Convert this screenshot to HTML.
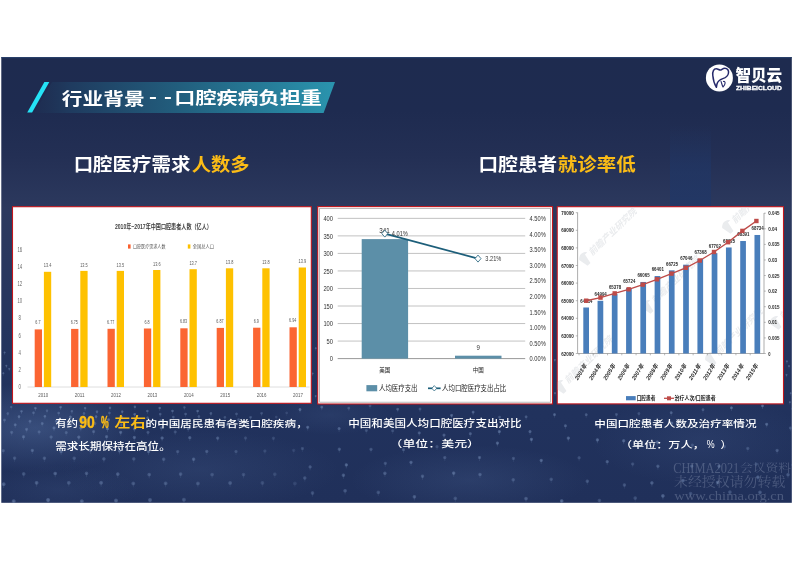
<!DOCTYPE html>
<html lang="zh-CN"><head><meta charset="utf-8"><title>行业背景--口腔疾病负担重</title>
<style>
html,body{margin:0;padding:0;background:#fff;}
body{width:793px;height:561px;overflow:hidden;}
svg{display:block;}
text{white-space:pre;}
</style></head><body>
<svg width="793" height="561" viewBox="0 0 793 561">
<defs>
<linearGradient id="bg" x1="0" y1="0" x2="0" y2="1">
<stop offset="0" stop-color="#1e2b4f"/>
<stop offset="0.12" stop-color="#1e2b50"/>
<stop offset="0.22" stop-color="#232f54"/>
<stop offset="0.34" stop-color="#2c395e"/>
<stop offset="0.6" stop-color="#25355e"/>
<stop offset="0.8" stop-color="#21325d"/>
<stop offset="1" stop-color="#20305a"/>
</linearGradient>
<linearGradient id="band" x1="0" y1="0" x2="1" y2="0">
<stop offset="0" stop-color="#1f3558" stop-opacity="0.2"/>
<stop offset="0.12" stop-color="#1f3b5f"/>
<stop offset="0.5" stop-color="#22607f"/>
<stop offset="1" stop-color="#2a94ae"/>
</linearGradient>
<linearGradient id="tower" x1="0" y1="0" x2="0" y2="1">
<stop offset="0" stop-color="#1f3768" stop-opacity="0"/>
<stop offset="0.5" stop-color="#1f3768" stop-opacity="0.8"/>
<stop offset="1" stop-color="#1f3768" stop-opacity="1"/>
</linearGradient>
<radialGradient id="dot"><stop offset="0" stop-color="#8ea7cf" stop-opacity="0.9"/><stop offset="0.6" stop-color="#7790bb" stop-opacity="0.7"/><stop offset="1" stop-color="#6a84b2" stop-opacity="0"/></radialGradient>
<radialGradient id="glow"><stop offset="0" stop-color="#6f8fc4" stop-opacity="1"/><stop offset="1" stop-color="#6f8fc4" stop-opacity="0"/></radialGradient>
<filter id="soft" x="-5%" y="-5%" width="110%" height="110%"><feGaussianBlur stdDeviation="0.45"/></filter>
<filter id="soft2" x="-5%" y="-5%" width="110%" height="110%"><feGaussianBlur stdDeviation="0.3"/></filter>
<clipPath id="c3"><rect x="557.8" y="207.3" width="225.1" height="196"/></clipPath>
<clipPath id="slide"><rect x="1.3" y="57" width="790.5" height="445.8"/></clipPath>
</defs>
<rect x="0" y="0" width="793" height="561" fill="#fff"/>
<rect x="1.3" y="57" width="790.5" height="445.8" fill="url(#bg)"/>
<rect x="1.3" y="57" width="790.5" height="1.2" fill="#2b456f" opacity="0.8"/>

<g clip-path="url(#slide)">
<rect x="670" y="125" width="41" height="82" fill="url(#tower)" opacity="0.7"/>
<ellipse cx="35" cy="428" rx="110" ry="45" fill="url(#glow)" opacity="0.3"/>
<ellipse cx="200" cy="470" rx="140" ry="40" fill="url(#glow)" opacity="0.12"/>
<ellipse cx="470" cy="480" rx="120" ry="35" fill="url(#glow)" opacity="0.14"/>
<ellipse cx="700" cy="440" rx="110" ry="45" fill="url(#glow)" opacity="0.1"/>
<ellipse cx="330" cy="415" rx="60" ry="20" fill="url(#glow)" opacity="0.1"/>
<ellipse cx="60" cy="490" rx="80" ry="25" fill="url(#glow)" opacity="0.1"/>
<circle cx="11.2" cy="407.0" r="1.7" fill="url(#dot)" opacity="0.38"/>
<rect x="10.7" y="407.3" width="1" height="2.5" fill="#7b95bd" opacity="0.13"/>
<circle cx="7.8" cy="413.5" r="1.8" fill="url(#dot)" opacity="0.39"/>
<rect x="7.3" y="413.8" width="1" height="2.7" fill="#7b95bd" opacity="0.14"/>
<circle cx="4.5" cy="420.0" r="1.9" fill="url(#dot)" opacity="0.43"/>
<rect x="4.0" y="420.3" width="1" height="2.8" fill="#7b95bd" opacity="0.15"/>
<circle cx="21.5" cy="411.3" r="1.7" fill="url(#dot)" opacity="0.47"/>
<rect x="21.0" y="411.6" width="1" height="2.5" fill="#7b95bd" opacity="0.17"/>
<circle cx="19.0" cy="416.6" r="1.8" fill="url(#dot)" opacity="0.58"/>
<rect x="18.5" y="416.9" width="1" height="2.7" fill="#7b95bd" opacity="0.20"/>
<circle cx="15.2" cy="424.8" r="1.9" fill="url(#dot)" opacity="0.55"/>
<rect x="14.7" y="425.1" width="1" height="2.8" fill="#7b95bd" opacity="0.19"/>
<circle cx="11.7" cy="432.3" r="2.0" fill="url(#dot)" opacity="0.44"/>
<rect x="11.2" y="432.6" width="1" height="3.0" fill="#7b95bd" opacity="0.16"/>
<circle cx="3.2" cy="450.7" r="2.1" fill="url(#dot)" opacity="0.39"/>
<rect x="2.7" y="451.0" width="1" height="3.2" fill="#7b95bd" opacity="0.14"/>
<circle cx="35.4" cy="408.2" r="1.7" fill="url(#dot)" opacity="0.55"/>
<rect x="34.9" y="408.5" width="1" height="2.5" fill="#7b95bd" opacity="0.19"/>
<circle cx="33.5" cy="412.7" r="1.8" fill="url(#dot)" opacity="0.42"/>
<rect x="33.0" y="413.0" width="1" height="2.7" fill="#7b95bd" opacity="0.15"/>
<circle cx="30.0" cy="421.2" r="1.9" fill="url(#dot)" opacity="0.47"/>
<rect x="29.5" y="421.5" width="1" height="2.8" fill="#7b95bd" opacity="0.17"/>
<circle cx="26.6" cy="429.3" r="2.0" fill="url(#dot)" opacity="0.46"/>
<rect x="26.1" y="429.6" width="1" height="3.0" fill="#7b95bd" opacity="0.16"/>
<circle cx="23.5" cy="436.8" r="2.1" fill="url(#dot)" opacity="0.51"/>
<rect x="23.0" y="437.1" width="1" height="3.1" fill="#7b95bd" opacity="0.18"/>
<circle cx="14.6" cy="458.1" r="2.2" fill="url(#dot)" opacity="0.40"/>
<rect x="14.1" y="458.4" width="1" height="3.4" fill="#7b95bd" opacity="0.14"/>
<circle cx="3.7" cy="484.2" r="2.4" fill="url(#dot)" opacity="0.53"/>
<rect x="3.2" y="484.5" width="1" height="3.6" fill="#7b95bd" opacity="0.19"/>
<circle cx="47.0" cy="410.6" r="1.7" fill="url(#dot)" opacity="0.40"/>
<rect x="46.5" y="410.9" width="1" height="2.5" fill="#7b95bd" opacity="0.14"/>
<circle cx="44.9" cy="416.3" r="1.8" fill="url(#dot)" opacity="0.54"/>
<rect x="44.4" y="416.6" width="1" height="2.7" fill="#7b95bd" opacity="0.19"/>
<circle cx="42.2" cy="423.5" r="1.9" fill="url(#dot)" opacity="0.49"/>
<rect x="41.7" y="423.8" width="1" height="2.8" fill="#7b95bd" opacity="0.17"/>
<circle cx="39.1" cy="431.9" r="2.0" fill="url(#dot)" opacity="0.42"/>
<rect x="38.6" y="432.2" width="1" height="3.0" fill="#7b95bd" opacity="0.15"/>
<circle cx="32.3" cy="450.4" r="2.1" fill="url(#dot)" opacity="0.51"/>
<rect x="31.8" y="450.7" width="1" height="3.2" fill="#7b95bd" opacity="0.18"/>
<circle cx="23.7" cy="473.9" r="2.3" fill="url(#dot)" opacity="0.42"/>
<rect x="23.2" y="474.2" width="1" height="3.5" fill="#7b95bd" opacity="0.15"/>
<circle cx="13.7" cy="501.3" r="2.5" fill="url(#dot)" opacity="0.54"/>
<rect x="13.2" y="501.6" width="1" height="3.8" fill="#7b95bd" opacity="0.19"/>
<circle cx="60.6" cy="407.2" r="1.7" fill="url(#dot)" opacity="0.56"/>
<rect x="60.1" y="407.5" width="1" height="2.5" fill="#7b95bd" opacity="0.19"/>
<circle cx="58.7" cy="413.0" r="1.8" fill="url(#dot)" opacity="0.46"/>
<rect x="58.2" y="413.3" width="1" height="2.7" fill="#7b95bd" opacity="0.16"/>
<circle cx="56.2" cy="421.1" r="1.9" fill="url(#dot)" opacity="0.51"/>
<rect x="55.7" y="421.4" width="1" height="2.8" fill="#7b95bd" opacity="0.18"/>
<circle cx="54.0" cy="427.9" r="2.0" fill="url(#dot)" opacity="0.58"/>
<rect x="53.5" y="428.2" width="1" height="3.0" fill="#7b95bd" opacity="0.20"/>
<circle cx="51.1" cy="437.0" r="2.1" fill="url(#dot)" opacity="0.43"/>
<rect x="50.6" y="437.3" width="1" height="3.1" fill="#7b95bd" opacity="0.15"/>
<circle cx="44.4" cy="458.2" r="2.2" fill="url(#dot)" opacity="0.44"/>
<rect x="43.9" y="458.5" width="1" height="3.4" fill="#7b95bd" opacity="0.15"/>
<circle cx="36.6" cy="482.8" r="2.4" fill="url(#dot)" opacity="0.50"/>
<rect x="36.1" y="483.1" width="1" height="3.6" fill="#7b95bd" opacity="0.17"/>
<circle cx="71.9" cy="411.2" r="1.7" fill="url(#dot)" opacity="0.45"/>
<rect x="71.4" y="411.5" width="1" height="2.5" fill="#7b95bd" opacity="0.16"/>
<circle cx="70.4" cy="416.9" r="1.8" fill="url(#dot)" opacity="0.57"/>
<rect x="69.9" y="417.2" width="1" height="2.7" fill="#7b95bd" opacity="0.20"/>
<circle cx="68.5" cy="424.0" r="1.9" fill="url(#dot)" opacity="0.49"/>
<rect x="68.0" y="424.3" width="1" height="2.8" fill="#7b95bd" opacity="0.17"/>
<circle cx="66.2" cy="432.6" r="2.0" fill="url(#dot)" opacity="0.42"/>
<rect x="65.7" y="432.9" width="1" height="3.0" fill="#7b95bd" opacity="0.15"/>
<circle cx="61.1" cy="451.7" r="2.1" fill="url(#dot)" opacity="0.54"/>
<rect x="60.6" y="452.0" width="1" height="3.2" fill="#7b95bd" opacity="0.19"/>
<circle cx="55.2" cy="473.5" r="2.3" fill="url(#dot)" opacity="0.53"/>
<rect x="54.7" y="473.8" width="1" height="3.5" fill="#7b95bd" opacity="0.18"/>
<circle cx="48.1" cy="500.0" r="2.5" fill="url(#dot)" opacity="0.57"/>
<rect x="47.6" y="500.3" width="1" height="3.8" fill="#7b95bd" opacity="0.20"/>
<circle cx="85.1" cy="408.1" r="1.7" fill="url(#dot)" opacity="0.50"/>
<rect x="84.6" y="408.4" width="1" height="2.5" fill="#7b95bd" opacity="0.18"/>
<circle cx="84.0" cy="413.4" r="1.8" fill="url(#dot)" opacity="0.40"/>
<rect x="83.5" y="413.7" width="1" height="2.7" fill="#7b95bd" opacity="0.14"/>
<circle cx="82.6" cy="419.8" r="1.9" fill="url(#dot)" opacity="0.57"/>
<rect x="82.1" y="420.1" width="1" height="2.8" fill="#7b95bd" opacity="0.20"/>
<circle cx="80.8" cy="428.1" r="2.0" fill="url(#dot)" opacity="0.52"/>
<rect x="80.3" y="428.4" width="1" height="3.0" fill="#7b95bd" opacity="0.18"/>
<circle cx="78.8" cy="437.1" r="2.1" fill="url(#dot)" opacity="0.54"/>
<rect x="78.3" y="437.4" width="1" height="3.1" fill="#7b95bd" opacity="0.19"/>
<circle cx="74.2" cy="458.2" r="2.2" fill="url(#dot)" opacity="0.42"/>
<rect x="73.7" y="458.5" width="1" height="3.4" fill="#7b95bd" opacity="0.15"/>
<circle cx="68.8" cy="482.8" r="2.4" fill="url(#dot)" opacity="0.43"/>
<rect x="68.3" y="483.1" width="1" height="3.6" fill="#7b95bd" opacity="0.15"/>
<circle cx="97.0" cy="411.6" r="1.7" fill="url(#dot)" opacity="0.50"/>
<rect x="96.5" y="411.9" width="1" height="2.5" fill="#7b95bd" opacity="0.18"/>
<circle cx="96.1" cy="416.6" r="1.8" fill="url(#dot)" opacity="0.56"/>
<rect x="95.6" y="416.9" width="1" height="2.7" fill="#7b95bd" opacity="0.20"/>
<circle cx="95.0" cy="423.5" r="1.9" fill="url(#dot)" opacity="0.38"/>
<rect x="94.5" y="423.8" width="1" height="2.8" fill="#7b95bd" opacity="0.13"/>
<circle cx="93.6" cy="431.6" r="2.0" fill="url(#dot)" opacity="0.47"/>
<rect x="93.1" y="431.9" width="1" height="3.0" fill="#7b95bd" opacity="0.16"/>
<circle cx="90.4" cy="450.5" r="2.1" fill="url(#dot)" opacity="0.45"/>
<rect x="89.9" y="450.8" width="1" height="3.2" fill="#7b95bd" opacity="0.16"/>
<circle cx="86.5" cy="473.4" r="2.3" fill="url(#dot)" opacity="0.45"/>
<rect x="86.0" y="473.7" width="1" height="3.5" fill="#7b95bd" opacity="0.16"/>
<circle cx="81.8" cy="501.3" r="2.5" fill="url(#dot)" opacity="0.51"/>
<rect x="81.3" y="501.6" width="1" height="3.8" fill="#7b95bd" opacity="0.18"/>
<circle cx="110.0" cy="407.8" r="1.7" fill="url(#dot)" opacity="0.50"/>
<rect x="109.5" y="408.1" width="1" height="2.5" fill="#7b95bd" opacity="0.17"/>
<circle cx="109.4" cy="412.9" r="1.8" fill="url(#dot)" opacity="0.39"/>
<rect x="108.9" y="413.2" width="1" height="2.7" fill="#7b95bd" opacity="0.14"/>
<circle cx="108.6" cy="419.7" r="1.9" fill="url(#dot)" opacity="0.56"/>
<rect x="108.1" y="420.0" width="1" height="2.8" fill="#7b95bd" opacity="0.20"/>
<circle cx="107.5" cy="428.8" r="2.0" fill="url(#dot)" opacity="0.57"/>
<rect x="107.0" y="429.1" width="1" height="3.0" fill="#7b95bd" opacity="0.20"/>
<circle cx="106.6" cy="436.7" r="2.1" fill="url(#dot)" opacity="0.51"/>
<rect x="106.1" y="437.0" width="1" height="3.1" fill="#7b95bd" opacity="0.18"/>
<circle cx="103.9" cy="458.9" r="2.2" fill="url(#dot)" opacity="0.44"/>
<rect x="103.4" y="459.2" width="1" height="3.4" fill="#7b95bd" opacity="0.16"/>
<circle cx="101.1" cy="482.8" r="2.4" fill="url(#dot)" opacity="0.49"/>
<rect x="100.6" y="483.1" width="1" height="3.6" fill="#7b95bd" opacity="0.17"/>
<circle cx="122.2" cy="411.6" r="1.7" fill="url(#dot)" opacity="0.53"/>
<rect x="121.7" y="411.9" width="1" height="2.5" fill="#7b95bd" opacity="0.18"/>
<circle cx="121.8" cy="417.3" r="1.8" fill="url(#dot)" opacity="0.54"/>
<rect x="121.3" y="417.6" width="1" height="2.7" fill="#7b95bd" opacity="0.19"/>
<circle cx="121.3" cy="424.7" r="1.9" fill="url(#dot)" opacity="0.45"/>
<rect x="120.8" y="425.0" width="1" height="2.8" fill="#7b95bd" opacity="0.16"/>
<circle cx="120.7" cy="432.3" r="2.0" fill="url(#dot)" opacity="0.56"/>
<rect x="120.2" y="432.6" width="1" height="3.0" fill="#7b95bd" opacity="0.20"/>
<circle cx="119.4" cy="450.9" r="2.1" fill="url(#dot)" opacity="0.54"/>
<rect x="118.9" y="451.2" width="1" height="3.2" fill="#7b95bd" opacity="0.19"/>
<circle cx="117.8" cy="474.1" r="2.3" fill="url(#dot)" opacity="0.50"/>
<rect x="117.3" y="474.4" width="1" height="3.5" fill="#7b95bd" opacity="0.18"/>
<circle cx="116.0" cy="500.6" r="2.5" fill="url(#dot)" opacity="0.50"/>
<rect x="115.5" y="500.9" width="1" height="3.8" fill="#7b95bd" opacity="0.18"/>
<circle cx="134.9" cy="406.8" r="1.7" fill="url(#dot)" opacity="0.51"/>
<rect x="134.4" y="407.1" width="1" height="2.5" fill="#7b95bd" opacity="0.18"/>
<circle cx="134.7" cy="414.3" r="1.8" fill="url(#dot)" opacity="0.56"/>
<rect x="134.2" y="414.6" width="1" height="2.7" fill="#7b95bd" opacity="0.19"/>
<circle cx="134.6" cy="420.9" r="1.9" fill="url(#dot)" opacity="0.46"/>
<rect x="134.1" y="421.2" width="1" height="2.8" fill="#7b95bd" opacity="0.16"/>
<circle cx="134.4" cy="428.9" r="2.0" fill="url(#dot)" opacity="0.50"/>
<rect x="133.9" y="429.2" width="1" height="3.0" fill="#7b95bd" opacity="0.17"/>
<circle cx="134.3" cy="437.4" r="2.1" fill="url(#dot)" opacity="0.55"/>
<rect x="133.8" y="437.7" width="1" height="3.1" fill="#7b95bd" opacity="0.19"/>
<circle cx="133.8" cy="458.9" r="2.2" fill="url(#dot)" opacity="0.39"/>
<rect x="133.3" y="459.2" width="1" height="3.4" fill="#7b95bd" opacity="0.14"/>
<circle cx="133.3" cy="483.5" r="2.4" fill="url(#dot)" opacity="0.43"/>
<rect x="132.8" y="483.8" width="1" height="3.6" fill="#7b95bd" opacity="0.15"/>
<circle cx="147.4" cy="411.0" r="1.7" fill="url(#dot)" opacity="0.50"/>
<rect x="146.9" y="411.3" width="1" height="2.5" fill="#7b95bd" opacity="0.18"/>
<circle cx="147.6" cy="417.7" r="1.8" fill="url(#dot)" opacity="0.43"/>
<rect x="147.1" y="418.0" width="1" height="2.7" fill="#7b95bd" opacity="0.15"/>
<circle cx="147.7" cy="423.2" r="1.9" fill="url(#dot)" opacity="0.44"/>
<rect x="147.2" y="423.5" width="1" height="2.8" fill="#7b95bd" opacity="0.15"/>
<circle cx="148.0" cy="432.3" r="2.0" fill="url(#dot)" opacity="0.42"/>
<rect x="147.5" y="432.6" width="1" height="3.0" fill="#7b95bd" opacity="0.15"/>
<circle cx="148.5" cy="451.6" r="2.1" fill="url(#dot)" opacity="0.51"/>
<rect x="148.0" y="451.9" width="1" height="3.2" fill="#7b95bd" opacity="0.18"/>
<circle cx="149.2" cy="474.6" r="2.3" fill="url(#dot)" opacity="0.45"/>
<rect x="148.7" y="474.9" width="1" height="3.5" fill="#7b95bd" opacity="0.16"/>
<circle cx="150.0" cy="500.0" r="2.5" fill="url(#dot)" opacity="0.47"/>
<rect x="149.5" y="500.3" width="1" height="3.8" fill="#7b95bd" opacity="0.16"/>
<circle cx="159.7" cy="408.0" r="1.7" fill="url(#dot)" opacity="0.56"/>
<rect x="159.2" y="408.3" width="1" height="2.5" fill="#7b95bd" opacity="0.20"/>
<circle cx="160.2" cy="414.1" r="1.8" fill="url(#dot)" opacity="0.46"/>
<rect x="159.7" y="414.4" width="1" height="2.7" fill="#7b95bd" opacity="0.16"/>
<circle cx="160.7" cy="420.6" r="1.9" fill="url(#dot)" opacity="0.44"/>
<rect x="160.2" y="420.9" width="1" height="2.8" fill="#7b95bd" opacity="0.16"/>
<circle cx="161.3" cy="427.9" r="2.0" fill="url(#dot)" opacity="0.48"/>
<rect x="160.8" y="428.2" width="1" height="3.0" fill="#7b95bd" opacity="0.17"/>
<circle cx="162.1" cy="438.0" r="2.1" fill="url(#dot)" opacity="0.55"/>
<rect x="161.6" y="438.3" width="1" height="3.1" fill="#7b95bd" opacity="0.19"/>
<circle cx="163.7" cy="459.2" r="2.2" fill="url(#dot)" opacity="0.44"/>
<rect x="163.2" y="459.5" width="1" height="3.4" fill="#7b95bd" opacity="0.15"/>
<circle cx="165.6" cy="483.4" r="2.4" fill="url(#dot)" opacity="0.44"/>
<rect x="165.1" y="483.7" width="1" height="3.6" fill="#7b95bd" opacity="0.15"/>
<circle cx="172.5" cy="410.9" r="1.7" fill="url(#dot)" opacity="0.51"/>
<rect x="172.0" y="411.2" width="1" height="2.5" fill="#7b95bd" opacity="0.18"/>
<circle cx="173.3" cy="417.0" r="1.8" fill="url(#dot)" opacity="0.44"/>
<rect x="172.8" y="417.3" width="1" height="2.7" fill="#7b95bd" opacity="0.16"/>
<circle cx="174.2" cy="424.5" r="1.9" fill="url(#dot)" opacity="0.58"/>
<rect x="173.7" y="424.8" width="1" height="2.8" fill="#7b95bd" opacity="0.20"/>
<circle cx="175.2" cy="431.9" r="2.0" fill="url(#dot)" opacity="0.39"/>
<rect x="174.7" y="432.2" width="1" height="3.0" fill="#7b95bd" opacity="0.14"/>
<circle cx="177.7" cy="451.6" r="2.1" fill="url(#dot)" opacity="0.39"/>
<rect x="177.2" y="451.9" width="1" height="3.2" fill="#7b95bd" opacity="0.14"/>
<circle cx="180.6" cy="474.1" r="2.3" fill="url(#dot)" opacity="0.44"/>
<rect x="180.1" y="474.4" width="1" height="3.5" fill="#7b95bd" opacity="0.15"/>
<circle cx="183.9" cy="499.7" r="2.5" fill="url(#dot)" opacity="0.41"/>
<rect x="183.4" y="500.0" width="1" height="3.8" fill="#7b95bd" opacity="0.14"/>
<circle cx="184.4" cy="407.4" r="1.7" fill="url(#dot)" opacity="0.38"/>
<rect x="183.9" y="407.7" width="1" height="2.5" fill="#7b95bd" opacity="0.13"/>
<circle cx="185.6" cy="414.0" r="1.8" fill="url(#dot)" opacity="0.43"/>
<rect x="185.1" y="414.3" width="1" height="2.7" fill="#7b95bd" opacity="0.15"/>
<circle cx="186.7" cy="419.9" r="1.9" fill="url(#dot)" opacity="0.39"/>
<rect x="186.2" y="420.2" width="1" height="2.8" fill="#7b95bd" opacity="0.14"/>
<circle cx="188.2" cy="428.7" r="2.0" fill="url(#dot)" opacity="0.47"/>
<rect x="187.7" y="429.0" width="1" height="3.0" fill="#7b95bd" opacity="0.16"/>
<circle cx="189.8" cy="437.7" r="2.1" fill="url(#dot)" opacity="0.51"/>
<rect x="189.3" y="438.0" width="1" height="3.1" fill="#7b95bd" opacity="0.18"/>
<circle cx="193.6" cy="459.2" r="2.2" fill="url(#dot)" opacity="0.52"/>
<rect x="193.1" y="459.5" width="1" height="3.4" fill="#7b95bd" opacity="0.18"/>
<circle cx="197.9" cy="483.5" r="2.4" fill="url(#dot)" opacity="0.42"/>
<rect x="197.4" y="483.8" width="1" height="3.6" fill="#7b95bd" opacity="0.15"/>
<circle cx="197.6" cy="411.0" r="1.7" fill="url(#dot)" opacity="0.52"/>
<rect x="197.1" y="411.3" width="1" height="2.5" fill="#7b95bd" opacity="0.18"/>
<circle cx="198.9" cy="416.5" r="1.8" fill="url(#dot)" opacity="0.43"/>
<rect x="198.4" y="416.8" width="1" height="2.7" fill="#7b95bd" opacity="0.15"/>
<circle cx="200.5" cy="423.8" r="1.9" fill="url(#dot)" opacity="0.52"/>
<rect x="200.0" y="424.1" width="1" height="2.8" fill="#7b95bd" opacity="0.18"/>
<circle cx="206.8" cy="451.4" r="2.1" fill="url(#dot)" opacity="0.44"/>
<rect x="206.3" y="451.7" width="1" height="3.2" fill="#7b95bd" opacity="0.15"/>
<circle cx="212.1" cy="474.6" r="2.3" fill="url(#dot)" opacity="0.37"/>
<rect x="211.6" y="474.9" width="1" height="3.5" fill="#7b95bd" opacity="0.13"/>
<circle cx="210.9" cy="413.4" r="1.8" fill="url(#dot)" opacity="0.47"/>
<rect x="210.4" y="413.7" width="1" height="2.7" fill="#7b95bd" opacity="0.17"/>
<circle cx="213.0" cy="421.2" r="1.9" fill="url(#dot)" opacity="0.42"/>
<rect x="212.5" y="421.5" width="1" height="2.8" fill="#7b95bd" opacity="0.15"/>
<circle cx="217.7" cy="438.1" r="2.1" fill="url(#dot)" opacity="0.49"/>
<rect x="217.2" y="438.4" width="1" height="3.1" fill="#7b95bd" opacity="0.17"/>
<circle cx="230.1" cy="483.0" r="2.4" fill="url(#dot)" opacity="0.44"/>
<rect x="229.6" y="483.3" width="1" height="3.6" fill="#7b95bd" opacity="0.15"/>
<circle cx="224.9" cy="417.3" r="1.8" fill="url(#dot)" opacity="0.36"/>
<rect x="224.4" y="417.6" width="1" height="2.7" fill="#7b95bd" opacity="0.13"/>
<circle cx="227.2" cy="424.6" r="1.9" fill="url(#dot)" opacity="0.49"/>
<rect x="226.7" y="424.9" width="1" height="2.8" fill="#7b95bd" opacity="0.17"/>
<circle cx="236.0" cy="451.5" r="2.1" fill="url(#dot)" opacity="0.36"/>
<rect x="235.5" y="451.8" width="1" height="3.2" fill="#7b95bd" opacity="0.12"/>
<circle cx="243.5" cy="474.6" r="2.3" fill="url(#dot)" opacity="0.34"/>
<rect x="243.0" y="474.9" width="1" height="3.5" fill="#7b95bd" opacity="0.12"/>
<circle cx="236.5" cy="413.9" r="1.8" fill="url(#dot)" opacity="0.38"/>
<rect x="236.0" y="414.2" width="1" height="2.7" fill="#7b95bd" opacity="0.13"/>
<circle cx="238.6" cy="419.7" r="1.9" fill="url(#dot)" opacity="0.43"/>
<rect x="238.1" y="420.0" width="1" height="2.8" fill="#7b95bd" opacity="0.15"/>
<circle cx="245.5" cy="438.0" r="2.1" fill="url(#dot)" opacity="0.31"/>
<rect x="245.0" y="438.3" width="1" height="3.1" fill="#7b95bd" opacity="0.11"/>
<circle cx="262.4" cy="482.9" r="2.4" fill="url(#dot)" opacity="0.32"/>
<rect x="261.9" y="483.2" width="1" height="3.6" fill="#7b95bd" opacity="0.11"/>
<circle cx="250.6" cy="417.3" r="1.8" fill="url(#dot)" opacity="0.41"/>
<rect x="250.1" y="417.6" width="1" height="2.7" fill="#7b95bd" opacity="0.14"/>
<circle cx="253.4" cy="424.0" r="1.9" fill="url(#dot)" opacity="0.40"/>
<rect x="252.9" y="424.3" width="1" height="2.8" fill="#7b95bd" opacity="0.14"/>
<circle cx="264.9" cy="451.0" r="2.1" fill="url(#dot)" opacity="0.28"/>
<rect x="264.4" y="451.3" width="1" height="3.2" fill="#7b95bd" opacity="0.10"/>
<circle cx="274.8" cy="474.2" r="2.3" fill="url(#dot)" opacity="0.28"/>
<rect x="274.3" y="474.5" width="1" height="3.5" fill="#7b95bd" opacity="0.10"/>
<circle cx="261.6" cy="413.3" r="1.8" fill="url(#dot)" opacity="0.36"/>
<rect x="261.1" y="413.6" width="1" height="2.7" fill="#7b95bd" opacity="0.13"/>
<circle cx="265.3" cy="421.1" r="1.9" fill="url(#dot)" opacity="0.27"/>
<rect x="264.8" y="421.4" width="1" height="2.8" fill="#7b95bd" opacity="0.09"/>
<circle cx="273.4" cy="438.2" r="2.1" fill="url(#dot)" opacity="0.29"/>
<rect x="272.9" y="438.5" width="1" height="3.1" fill="#7b95bd" opacity="0.10"/>
<circle cx="294.9" cy="483.5" r="2.4" fill="url(#dot)" opacity="0.24"/>
<rect x="294.4" y="483.8" width="1" height="3.6" fill="#7b95bd" opacity="0.08"/>
<circle cx="276.2" cy="417.0" r="1.8" fill="url(#dot)" opacity="0.27"/>
<rect x="275.7" y="417.3" width="1" height="2.7" fill="#7b95bd" opacity="0.09"/>
<circle cx="280.1" cy="424.5" r="1.9" fill="url(#dot)" opacity="0.27"/>
<rect x="279.6" y="424.8" width="1" height="2.8" fill="#7b95bd" opacity="0.10"/>
<circle cx="293.7" cy="450.3" r="2.1" fill="url(#dot)" opacity="0.23"/>
<rect x="293.2" y="450.6" width="1" height="3.2" fill="#7b95bd" opacity="0.08"/>
<circle cx="286.7" cy="412.9" r="1.8" fill="url(#dot)" opacity="0.24"/>
<rect x="286.2" y="413.2" width="1" height="2.7" fill="#7b95bd" opacity="0.08"/>
<circle cx="291.4" cy="421.0" r="1.9" fill="url(#dot)" opacity="0.28"/>
<rect x="290.9" y="421.3" width="1" height="2.8" fill="#7b95bd" opacity="0.10"/>
<circle cx="300.0" cy="409.5" r="1.9" fill="url(#dot)" opacity="0.59"/>
<rect x="299.5" y="409.8" width="1" height="2.8" fill="#7b95bd" opacity="0.21"/>
<circle cx="321.8" cy="407.1" r="1.9" fill="url(#dot)" opacity="0.54"/>
<rect x="321.3" y="407.4" width="1" height="2.8" fill="#7b95bd" opacity="0.19"/>
<circle cx="348.8" cy="408.1" r="1.9" fill="url(#dot)" opacity="0.40"/>
<rect x="348.3" y="408.4" width="1" height="2.8" fill="#7b95bd" opacity="0.14"/>
<circle cx="370.0" cy="405.8" r="1.9" fill="url(#dot)" opacity="0.36"/>
<rect x="369.5" y="406.1" width="1" height="2.8" fill="#7b95bd" opacity="0.13"/>
<circle cx="397.7" cy="409.2" r="1.9" fill="url(#dot)" opacity="0.49"/>
<rect x="397.2" y="409.5" width="1" height="2.8" fill="#7b95bd" opacity="0.17"/>
<circle cx="420.0" cy="409.0" r="1.9" fill="url(#dot)" opacity="0.40"/>
<rect x="419.5" y="409.3" width="1" height="2.8" fill="#7b95bd" opacity="0.14"/>
<circle cx="451.6" cy="415.3" r="1.9" fill="url(#dot)" opacity="0.58"/>
<rect x="451.1" y="415.6" width="1" height="2.8" fill="#7b95bd" opacity="0.20"/>
<circle cx="473.1" cy="412.1" r="1.9" fill="url(#dot)" opacity="0.59"/>
<rect x="472.6" y="412.4" width="1" height="2.8" fill="#7b95bd" opacity="0.21"/>
<circle cx="499.6" cy="417.1" r="1.9" fill="url(#dot)" opacity="0.43"/>
<rect x="499.1" y="417.4" width="1" height="2.8" fill="#7b95bd" opacity="0.15"/>
<circle cx="526.1" cy="416.8" r="1.9" fill="url(#dot)" opacity="0.46"/>
<rect x="525.6" y="417.1" width="1" height="2.8" fill="#7b95bd" opacity="0.16"/>
<circle cx="554.5" cy="414.6" r="1.9" fill="url(#dot)" opacity="0.53"/>
<rect x="554.0" y="414.9" width="1" height="2.8" fill="#7b95bd" opacity="0.18"/>
<circle cx="586.2" cy="414.7" r="1.9" fill="url(#dot)" opacity="0.46"/>
<rect x="585.7" y="415.0" width="1" height="2.8" fill="#7b95bd" opacity="0.16"/>
<circle cx="616.4" cy="414.4" r="1.9" fill="url(#dot)" opacity="0.40"/>
<rect x="615.9" y="414.7" width="1" height="2.8" fill="#7b95bd" opacity="0.14"/>
<circle cx="638.9" cy="413.5" r="1.9" fill="url(#dot)" opacity="0.35"/>
<rect x="638.4" y="413.8" width="1" height="2.8" fill="#7b95bd" opacity="0.12"/>
<circle cx="671.2" cy="412.7" r="1.9" fill="url(#dot)" opacity="0.53"/>
<rect x="670.7" y="413.0" width="1" height="2.8" fill="#7b95bd" opacity="0.18"/>
<circle cx="703.0" cy="409.7" r="1.9" fill="url(#dot)" opacity="0.45"/>
<rect x="702.5" y="410.0" width="1" height="2.8" fill="#7b95bd" opacity="0.16"/>
<circle cx="731.4" cy="407.8" r="1.9" fill="url(#dot)" opacity="0.60"/>
<rect x="730.9" y="408.1" width="1" height="2.8" fill="#7b95bd" opacity="0.21"/>
<circle cx="762.5" cy="405.8" r="1.9" fill="url(#dot)" opacity="0.58"/>
<rect x="762.0" y="406.1" width="1" height="2.8" fill="#7b95bd" opacity="0.20"/>
<circle cx="792.8" cy="408.7" r="1.9" fill="url(#dot)" opacity="0.55"/>
<rect x="792.3" y="409.0" width="1" height="2.8" fill="#7b95bd" opacity="0.19"/>
<circle cx="307.7" cy="427.2" r="2.0" fill="url(#dot)" opacity="0.57"/>
<rect x="307.2" y="427.5" width="1" height="3.0" fill="#7b95bd" opacity="0.20"/>
<circle cx="339.1" cy="428.6" r="2.0" fill="url(#dot)" opacity="0.54"/>
<rect x="338.6" y="428.9" width="1" height="3.0" fill="#7b95bd" opacity="0.19"/>
<circle cx="366.3" cy="430.4" r="2.0" fill="url(#dot)" opacity="0.37"/>
<rect x="365.8" y="430.7" width="1" height="3.0" fill="#7b95bd" opacity="0.13"/>
<circle cx="392.7" cy="430.8" r="2.0" fill="url(#dot)" opacity="0.35"/>
<rect x="392.2" y="431.1" width="1" height="3.0" fill="#7b95bd" opacity="0.12"/>
<circle cx="419.2" cy="432.9" r="2.0" fill="url(#dot)" opacity="0.51"/>
<rect x="418.7" y="433.2" width="1" height="3.0" fill="#7b95bd" opacity="0.18"/>
<circle cx="444.0" cy="435.1" r="2.0" fill="url(#dot)" opacity="0.52"/>
<rect x="443.5" y="435.4" width="1" height="3.0" fill="#7b95bd" opacity="0.18"/>
<circle cx="470.3" cy="433.7" r="2.0" fill="url(#dot)" opacity="0.49"/>
<rect x="469.8" y="434.0" width="1" height="3.0" fill="#7b95bd" opacity="0.17"/>
<circle cx="499.3" cy="431.6" r="2.0" fill="url(#dot)" opacity="0.60"/>
<rect x="498.8" y="431.9" width="1" height="3.0" fill="#7b95bd" opacity="0.21"/>
<circle cx="530.0" cy="431.6" r="2.0" fill="url(#dot)" opacity="0.54"/>
<rect x="529.5" y="431.9" width="1" height="3.0" fill="#7b95bd" opacity="0.19"/>
<circle cx="565.4" cy="425.8" r="2.0" fill="url(#dot)" opacity="0.50"/>
<rect x="564.9" y="426.1" width="1" height="3.0" fill="#7b95bd" opacity="0.18"/>
<circle cx="597.4" cy="424.8" r="2.0" fill="url(#dot)" opacity="0.45"/>
<rect x="596.9" y="425.1" width="1" height="3.0" fill="#7b95bd" opacity="0.16"/>
<circle cx="619.6" cy="423.2" r="2.0" fill="url(#dot)" opacity="0.44"/>
<rect x="619.1" y="423.5" width="1" height="3.0" fill="#7b95bd" opacity="0.16"/>
<circle cx="642.5" cy="422.4" r="2.0" fill="url(#dot)" opacity="0.58"/>
<rect x="642.0" y="422.7" width="1" height="3.0" fill="#7b95bd" opacity="0.20"/>
<circle cx="671.8" cy="423.1" r="2.0" fill="url(#dot)" opacity="0.59"/>
<rect x="671.3" y="423.4" width="1" height="3.0" fill="#7b95bd" opacity="0.21"/>
<circle cx="701.4" cy="425.7" r="2.0" fill="url(#dot)" opacity="0.51"/>
<rect x="700.9" y="426.0" width="1" height="3.0" fill="#7b95bd" opacity="0.18"/>
<circle cx="734.4" cy="422.4" r="2.0" fill="url(#dot)" opacity="0.50"/>
<rect x="733.9" y="422.7" width="1" height="3.0" fill="#7b95bd" opacity="0.17"/>
<circle cx="766.7" cy="424.2" r="2.0" fill="url(#dot)" opacity="0.58"/>
<rect x="766.2" y="424.5" width="1" height="3.0" fill="#7b95bd" opacity="0.20"/>
<circle cx="790.4" cy="428.0" r="2.0" fill="url(#dot)" opacity="0.39"/>
<rect x="789.9" y="428.3" width="1" height="3.0" fill="#7b95bd" opacity="0.14"/>
<circle cx="302.4" cy="448.5" r="2.1" fill="url(#dot)" opacity="0.36"/>
<rect x="301.9" y="448.8" width="1" height="3.1" fill="#7b95bd" opacity="0.13"/>
<circle cx="339.3" cy="449.2" r="2.1" fill="url(#dot)" opacity="0.48"/>
<rect x="338.8" y="449.5" width="1" height="3.1" fill="#7b95bd" opacity="0.17"/>
<circle cx="371.0" cy="449.3" r="2.1" fill="url(#dot)" opacity="0.42"/>
<rect x="370.5" y="449.6" width="1" height="3.1" fill="#7b95bd" opacity="0.15"/>
<circle cx="403.5" cy="449.7" r="2.1" fill="url(#dot)" opacity="0.42"/>
<rect x="403.0" y="450.0" width="1" height="3.1" fill="#7b95bd" opacity="0.15"/>
<circle cx="437.0" cy="446.7" r="2.1" fill="url(#dot)" opacity="0.35"/>
<rect x="436.5" y="447.0" width="1" height="3.1" fill="#7b95bd" opacity="0.12"/>
<circle cx="463.4" cy="443.7" r="2.1" fill="url(#dot)" opacity="0.39"/>
<rect x="462.9" y="444.0" width="1" height="3.1" fill="#7b95bd" opacity="0.14"/>
<circle cx="497.4" cy="443.1" r="2.1" fill="url(#dot)" opacity="0.57"/>
<rect x="496.9" y="443.4" width="1" height="3.1" fill="#7b95bd" opacity="0.20"/>
<circle cx="531.4" cy="439.3" r="2.1" fill="url(#dot)" opacity="0.60"/>
<rect x="530.9" y="439.6" width="1" height="3.1" fill="#7b95bd" opacity="0.21"/>
<circle cx="568.3" cy="438.1" r="2.1" fill="url(#dot)" opacity="0.58"/>
<rect x="567.8" y="438.4" width="1" height="3.1" fill="#7b95bd" opacity="0.20"/>
<circle cx="597.4" cy="439.9" r="2.1" fill="url(#dot)" opacity="0.59"/>
<rect x="596.9" y="440.2" width="1" height="3.1" fill="#7b95bd" opacity="0.21"/>
<circle cx="623.7" cy="440.8" r="2.1" fill="url(#dot)" opacity="0.58"/>
<rect x="623.2" y="441.1" width="1" height="3.1" fill="#7b95bd" opacity="0.20"/>
<circle cx="657.3" cy="442.1" r="2.1" fill="url(#dot)" opacity="0.59"/>
<rect x="656.8" y="442.4" width="1" height="3.1" fill="#7b95bd" opacity="0.21"/>
<circle cx="692.3" cy="445.1" r="2.1" fill="url(#dot)" opacity="0.38"/>
<rect x="691.8" y="445.4" width="1" height="3.1" fill="#7b95bd" opacity="0.13"/>
<circle cx="724.4" cy="446.6" r="2.1" fill="url(#dot)" opacity="0.40"/>
<rect x="723.9" y="446.9" width="1" height="3.1" fill="#7b95bd" opacity="0.14"/>
<circle cx="747.8" cy="448.4" r="2.1" fill="url(#dot)" opacity="0.38"/>
<rect x="747.3" y="448.7" width="1" height="3.1" fill="#7b95bd" opacity="0.13"/>
<circle cx="777.1" cy="450.4" r="2.1" fill="url(#dot)" opacity="0.46"/>
<rect x="776.6" y="450.7" width="1" height="3.1" fill="#7b95bd" opacity="0.16"/>
<circle cx="310.1" cy="466.9" r="2.1" fill="url(#dot)" opacity="0.45"/>
<rect x="309.6" y="467.2" width="1" height="3.2" fill="#7b95bd" opacity="0.16"/>
<circle cx="346.3" cy="464.9" r="2.1" fill="url(#dot)" opacity="0.60"/>
<rect x="345.8" y="465.2" width="1" height="3.2" fill="#7b95bd" opacity="0.21"/>
<circle cx="385.3" cy="463.3" r="2.1" fill="url(#dot)" opacity="0.41"/>
<rect x="384.8" y="463.6" width="1" height="3.2" fill="#7b95bd" opacity="0.14"/>
<circle cx="411.0" cy="462.3" r="2.1" fill="url(#dot)" opacity="0.55"/>
<rect x="410.5" y="462.6" width="1" height="3.2" fill="#7b95bd" opacity="0.19"/>
<circle cx="444.8" cy="457.6" r="2.1" fill="url(#dot)" opacity="0.42"/>
<rect x="444.3" y="457.9" width="1" height="3.2" fill="#7b95bd" opacity="0.15"/>
<circle cx="479.5" cy="457.5" r="2.1" fill="url(#dot)" opacity="0.50"/>
<rect x="479.0" y="457.8" width="1" height="3.2" fill="#7b95bd" opacity="0.17"/>
<circle cx="513.4" cy="458.4" r="2.1" fill="url(#dot)" opacity="0.40"/>
<rect x="512.9" y="458.7" width="1" height="3.2" fill="#7b95bd" opacity="0.14"/>
<circle cx="541.2" cy="460.4" r="2.1" fill="url(#dot)" opacity="0.58"/>
<rect x="540.7" y="460.7" width="1" height="3.2" fill="#7b95bd" opacity="0.20"/>
<circle cx="579.1" cy="457.8" r="2.1" fill="url(#dot)" opacity="0.37"/>
<rect x="578.6" y="458.1" width="1" height="3.2" fill="#7b95bd" opacity="0.13"/>
<circle cx="607.2" cy="461.7" r="2.1" fill="url(#dot)" opacity="0.51"/>
<rect x="606.7" y="462.0" width="1" height="3.2" fill="#7b95bd" opacity="0.18"/>
<circle cx="632.7" cy="464.0" r="2.1" fill="url(#dot)" opacity="0.37"/>
<rect x="632.2" y="464.3" width="1" height="3.2" fill="#7b95bd" opacity="0.13"/>
<circle cx="657.9" cy="466.2" r="2.1" fill="url(#dot)" opacity="0.49"/>
<rect x="657.4" y="466.5" width="1" height="3.2" fill="#7b95bd" opacity="0.17"/>
<circle cx="691.8" cy="466.1" r="2.1" fill="url(#dot)" opacity="0.47"/>
<rect x="691.3" y="466.4" width="1" height="3.2" fill="#7b95bd" opacity="0.16"/>
<circle cx="719.0" cy="466.2" r="2.1" fill="url(#dot)" opacity="0.54"/>
<rect x="718.5" y="466.5" width="1" height="3.2" fill="#7b95bd" opacity="0.19"/>
<circle cx="756.2" cy="464.1" r="2.1" fill="url(#dot)" opacity="0.38"/>
<rect x="755.7" y="464.4" width="1" height="3.2" fill="#7b95bd" opacity="0.13"/>
<circle cx="792.9" cy="464.9" r="2.1" fill="url(#dot)" opacity="0.54"/>
<rect x="792.4" y="465.2" width="1" height="3.2" fill="#7b95bd" opacity="0.19"/>
<circle cx="304.8" cy="478.0" r="2.2" fill="url(#dot)" opacity="0.41"/>
<rect x="304.3" y="478.3" width="1" height="3.3" fill="#7b95bd" opacity="0.15"/>
<circle cx="343.4" cy="475.2" r="2.2" fill="url(#dot)" opacity="0.51"/>
<rect x="342.9" y="475.5" width="1" height="3.3" fill="#7b95bd" opacity="0.18"/>
<circle cx="384.9" cy="473.3" r="2.2" fill="url(#dot)" opacity="0.49"/>
<rect x="384.4" y="473.6" width="1" height="3.3" fill="#7b95bd" opacity="0.17"/>
<circle cx="422.5" cy="476.2" r="2.2" fill="url(#dot)" opacity="0.46"/>
<rect x="422.0" y="476.5" width="1" height="3.3" fill="#7b95bd" opacity="0.16"/>
<circle cx="453.7" cy="473.1" r="2.2" fill="url(#dot)" opacity="0.57"/>
<rect x="453.2" y="473.4" width="1" height="3.3" fill="#7b95bd" opacity="0.20"/>
<circle cx="480.0" cy="474.5" r="2.2" fill="url(#dot)" opacity="0.49"/>
<rect x="479.5" y="474.8" width="1" height="3.3" fill="#7b95bd" opacity="0.17"/>
<circle cx="513.2" cy="479.8" r="2.2" fill="url(#dot)" opacity="0.42"/>
<rect x="512.7" y="480.1" width="1" height="3.3" fill="#7b95bd" opacity="0.15"/>
<circle cx="551.2" cy="479.3" r="2.2" fill="url(#dot)" opacity="0.40"/>
<rect x="550.7" y="479.6" width="1" height="3.3" fill="#7b95bd" opacity="0.14"/>
<circle cx="587.3" cy="481.2" r="2.2" fill="url(#dot)" opacity="0.43"/>
<rect x="586.8" y="481.5" width="1" height="3.3" fill="#7b95bd" opacity="0.15"/>
<circle cx="624.4" cy="485.0" r="2.2" fill="url(#dot)" opacity="0.42"/>
<rect x="623.9" y="485.3" width="1" height="3.3" fill="#7b95bd" opacity="0.15"/>
<circle cx="651.9" cy="482.9" r="2.2" fill="url(#dot)" opacity="0.53"/>
<rect x="651.4" y="483.2" width="1" height="3.3" fill="#7b95bd" opacity="0.19"/>
<circle cx="683.0" cy="480.5" r="2.2" fill="url(#dot)" opacity="0.53"/>
<rect x="682.5" y="480.8" width="1" height="3.3" fill="#7b95bd" opacity="0.18"/>
<circle cx="717.6" cy="482.4" r="2.2" fill="url(#dot)" opacity="0.58"/>
<rect x="717.1" y="482.7" width="1" height="3.3" fill="#7b95bd" opacity="0.20"/>
<circle cx="757.9" cy="477.1" r="2.2" fill="url(#dot)" opacity="0.55"/>
<rect x="757.4" y="477.4" width="1" height="3.3" fill="#7b95bd" opacity="0.19"/>
<circle cx="788.0" cy="474.7" r="2.2" fill="url(#dot)" opacity="0.45"/>
<rect x="787.5" y="475.0" width="1" height="3.3" fill="#7b95bd" opacity="0.16"/>
<circle cx="312.5" cy="493.0" r="2.3" fill="url(#dot)" opacity="0.41"/>
<rect x="312.0" y="493.3" width="1" height="3.4" fill="#7b95bd" opacity="0.14"/>
<circle cx="345.1" cy="490.8" r="2.3" fill="url(#dot)" opacity="0.44"/>
<rect x="344.6" y="491.1" width="1" height="3.4" fill="#7b95bd" opacity="0.15"/>
<circle cx="378.3" cy="492.4" r="2.3" fill="url(#dot)" opacity="0.40"/>
<rect x="377.8" y="492.7" width="1" height="3.4" fill="#7b95bd" opacity="0.14"/>
<circle cx="414.4" cy="496.8" r="2.3" fill="url(#dot)" opacity="0.49"/>
<rect x="413.9" y="497.1" width="1" height="3.4" fill="#7b95bd" opacity="0.17"/>
<circle cx="455.3" cy="498.4" r="2.3" fill="url(#dot)" opacity="0.39"/>
<rect x="454.8" y="498.7" width="1" height="3.4" fill="#7b95bd" opacity="0.14"/>
<circle cx="526.0" cy="498.6" r="2.3" fill="url(#dot)" opacity="0.48"/>
<rect x="525.5" y="498.9" width="1" height="3.4" fill="#7b95bd" opacity="0.17"/>
<circle cx="561.7" cy="501.0" r="2.3" fill="url(#dot)" opacity="0.59"/>
<rect x="561.2" y="501.3" width="1" height="3.4" fill="#7b95bd" opacity="0.21"/>
<circle cx="599.4" cy="500.5" r="2.3" fill="url(#dot)" opacity="0.37"/>
<rect x="598.9" y="500.8" width="1" height="3.4" fill="#7b95bd" opacity="0.13"/>
<circle cx="635.2" cy="498.1" r="2.3" fill="url(#dot)" opacity="0.37"/>
<rect x="634.7" y="498.4" width="1" height="3.4" fill="#7b95bd" opacity="0.13"/>
<circle cx="662.9" cy="495.9" r="2.3" fill="url(#dot)" opacity="0.57"/>
<rect x="662.4" y="496.2" width="1" height="3.4" fill="#7b95bd" opacity="0.20"/>
<circle cx="690.6" cy="493.6" r="2.3" fill="url(#dot)" opacity="0.39"/>
<rect x="690.1" y="493.9" width="1" height="3.4" fill="#7b95bd" opacity="0.14"/>
<circle cx="729.9" cy="492.1" r="2.3" fill="url(#dot)" opacity="0.41"/>
<rect x="729.4" y="492.4" width="1" height="3.4" fill="#7b95bd" opacity="0.14"/>
<circle cx="760.0" cy="492.3" r="2.3" fill="url(#dot)" opacity="0.48"/>
<rect x="759.5" y="492.6" width="1" height="3.4" fill="#7b95bd" opacity="0.17"/>
<circle cx="789.0" cy="366.1" r="1.4" fill="url(#dot)" opacity="0.45"/>
<rect x="788.5" y="366.4" width="1" height="2.1" fill="#7b95bd" opacity="0.16"/>
<circle cx="555.0" cy="393.2" r="1.4" fill="url(#dot)" opacity="0.45"/>
<rect x="554.5" y="393.5" width="1" height="2.1" fill="#7b95bd" opacity="0.16"/>
<circle cx="9.3" cy="368.8" r="1.4" fill="url(#dot)" opacity="0.45"/>
<rect x="8.8" y="369.1" width="1" height="2.1" fill="#7b95bd" opacity="0.16"/>
<circle cx="315.7" cy="348.2" r="1.4" fill="url(#dot)" opacity="0.45"/>
<rect x="315.2" y="348.5" width="1" height="2.1" fill="#7b95bd" opacity="0.16"/>
<circle cx="786.9" cy="361.4" r="1.4" fill="url(#dot)" opacity="0.45"/>
<rect x="786.4" y="361.7" width="1" height="2.1" fill="#7b95bd" opacity="0.16"/>
<circle cx="4.6" cy="352.5" r="1.4" fill="url(#dot)" opacity="0.45"/>
<rect x="4.1" y="352.8" width="1" height="2.1" fill="#7b95bd" opacity="0.16"/>
<circle cx="3.4" cy="373.2" r="1.4" fill="url(#dot)" opacity="0.45"/>
<rect x="2.9" y="373.5" width="1" height="2.1" fill="#7b95bd" opacity="0.16"/>
<circle cx="312.6" cy="373.5" r="1.4" fill="url(#dot)" opacity="0.45"/>
<rect x="312.1" y="373.8" width="1" height="2.1" fill="#7b95bd" opacity="0.16"/>
<circle cx="554.8" cy="359.8" r="1.4" fill="url(#dot)" opacity="0.45"/>
<rect x="554.3" y="360.1" width="1" height="2.1" fill="#7b95bd" opacity="0.16"/>
<circle cx="790.7" cy="393.2" r="1.4" fill="url(#dot)" opacity="0.45"/>
<rect x="790.2" y="393.5" width="1" height="2.1" fill="#7b95bd" opacity="0.16"/>
<circle cx="6.4" cy="365.7" r="1.4" fill="url(#dot)" opacity="0.45"/>
<rect x="5.9" y="366.0" width="1" height="2.1" fill="#7b95bd" opacity="0.16"/>
<circle cx="789.8" cy="402.2" r="1.4" fill="url(#dot)" opacity="0.45"/>
<rect x="789.3" y="402.5" width="1" height="2.1" fill="#7b95bd" opacity="0.16"/>
<circle cx="315.6" cy="396.0" r="1.4" fill="url(#dot)" opacity="0.45"/>
<rect x="315.1" y="396.3" width="1" height="2.1" fill="#7b95bd" opacity="0.16"/>
<circle cx="786.5" cy="374.8" r="1.4" fill="url(#dot)" opacity="0.45"/>
<rect x="786.0" y="375.1" width="1" height="2.1" fill="#7b95bd" opacity="0.16"/>
</g>
<polygon points="52,82 335,82 323.6,113 34.5,113" fill="url(#band)"/>
<polygon points="44.4,82 49.3,82 32.1,112.5 27.2,112.5" fill="#25e3f6"/>
<text font-family='"Liberation Sans", "Noto Sans CJK SC", sans-serif' ><tspan x="61.84" y="104.66" font-size="17.37" fill="#fff" font-weight="bold" textLength="82.75" lengthAdjust="spacingAndGlyphs">行业背景</tspan><tspan x="148.91" y="102.41" font-size="17.00" fill="#fff" font-weight="bold" textLength="7.87" lengthAdjust="spacingAndGlyphs">-</tspan><tspan x="163.91" y="102.41" font-size="17.00" fill="#fff" font-weight="bold" textLength="7.87" lengthAdjust="spacingAndGlyphs">-</tspan><tspan x="174.39" y="104.47" font-size="17.14" fill="#fff" font-weight="bold" textLength="147.40" lengthAdjust="spacingAndGlyphs">口腔疾病负担重</tspan></text>
<circle cx="719.4" cy="77.9" r="13.5" fill="#fff"/>
<path d="M716.4,87.3 C714.6,84.5 713.2,80 712.8,75.5 C712.3,71.5 713.8,68.8 716.2,68.8 C718,68.8 719,70.1 720.3,70.1 C721.6,70.1 722.6,68.2 724.8,68.2 C727.6,68.2 728.9,70.6 728.5,73 C728.1,75.6 726,77.6 722.8,78.6 C719.6,79.7 717.6,81.5 717,84 C716.7,85.2 716.6,86.3 716.4,87.3 Z" fill="none" stroke="#262a6b" stroke-width="1.5" stroke-linejoin="round"/>
<path d="M721,81.4 C721.8,83.6 722.2,85.6 723,87 C724.2,85.8 725.1,84.5 725.1,83 C725.1,81.8 724.3,81.1 723.5,81.5" fill="none" stroke="#262a6b" stroke-width="1.1" stroke-linecap="round" stroke-linejoin="round"/>
<text font-family='"Liberation Sans", "Noto Sans CJK SC", sans-serif' ><tspan x="735.41" y="81.35" font-size="16.41" fill="#fff" font-weight="900" textLength="46.77" lengthAdjust="spacingAndGlyphs">智贝云</tspan></text>
<text font-family='"Liberation Sans", "Noto Sans CJK SC", sans-serif' stroke="#fff" stroke-width="0.35"><tspan x="736.03" y="89.82" font-size="6.04" fill="#fff" font-weight="bold" textLength="45.77" lengthAdjust="spacingAndGlyphs">ZHIBEICLOUD</tspan></text>
<text font-family='"Liberation Sans", "Noto Sans CJK SC", sans-serif' ><tspan x="73.65" y="171.42" font-size="17.79" fill="#fff" font-weight="bold" textLength="116.83" lengthAdjust="spacingAndGlyphs">口腔医疗需求</tspan><tspan x="191.68" y="171.42" font-size="17.79" fill="#fbbc16" font-weight="bold" textLength="57.89" lengthAdjust="spacingAndGlyphs">人数多</tspan></text>
<text font-family='"Liberation Sans", "Noto Sans CJK SC", sans-serif' ><tspan x="478.63" y="171.42" font-size="17.79" fill="#fff" font-weight="bold" textLength="78.65" lengthAdjust="spacingAndGlyphs">口腔患者</tspan><tspan x="557.81" y="171.42" font-size="17.79" fill="#fbbc16" font-weight="bold" textLength="77.87" lengthAdjust="spacingAndGlyphs">就诊率低</tspan></text>
<g>
<rect x="12.5" y="206.7" width="298.8" height="196.6" fill="#fff" stroke="#c4161c" stroke-width="1.1"/>
<g filter="url(#soft2)">
<text x="163.40" y="228.75" font-size="6.8" fill="#3c3c3c" font-weight="bold" font-family='"Liberation Sans", "Noto Sans CJK SC", sans-serif' text-anchor="middle" textLength="97.00" lengthAdjust="spacingAndGlyphs" >2010年~2017年中国口腔患者人数（亿人）</text>
<rect x="128" y="244.4" width="2.6" height="4.2" fill="#f9602e"/>
<text x="133.00" y="248.30" font-size="5" fill="#555" font-weight="normal" font-family='"Liberation Sans", "Noto Sans CJK SC", sans-serif' text-anchor="start" textLength="32.50" lengthAdjust="spacingAndGlyphs" >口腔医疗需求人数</text>
<rect x="187.8" y="244.4" width="2.6" height="4.2" fill="#fdc101"/>
<text x="192.80" y="248.30" font-size="5" fill="#555" font-weight="normal" font-family='"Liberation Sans", "Noto Sans CJK SC", sans-serif' text-anchor="start" textLength="21.30" lengthAdjust="spacingAndGlyphs" >全国总人口</text>
<text x="19.80" y="389.27" font-size="6.3" fill="#6a6a6a" font-weight="normal" font-family='"Liberation Sans", "Noto Sans CJK SC", sans-serif' text-anchor="middle" textLength="2.40" lengthAdjust="spacingAndGlyphs" >0</text>
<text x="19.80" y="372.07" font-size="6.3" fill="#6a6a6a" font-weight="normal" font-family='"Liberation Sans", "Noto Sans CJK SC", sans-serif' text-anchor="middle" textLength="2.40" lengthAdjust="spacingAndGlyphs" >2</text>
<text x="19.80" y="354.87" font-size="6.3" fill="#6a6a6a" font-weight="normal" font-family='"Liberation Sans", "Noto Sans CJK SC", sans-serif' text-anchor="middle" textLength="2.40" lengthAdjust="spacingAndGlyphs" >4</text>
<text x="19.80" y="337.67" font-size="6.3" fill="#6a6a6a" font-weight="normal" font-family='"Liberation Sans", "Noto Sans CJK SC", sans-serif' text-anchor="middle" textLength="2.40" lengthAdjust="spacingAndGlyphs" >6</text>
<text x="19.80" y="320.47" font-size="6.3" fill="#6a6a6a" font-weight="normal" font-family='"Liberation Sans", "Noto Sans CJK SC", sans-serif' text-anchor="middle" textLength="2.40" lengthAdjust="spacingAndGlyphs" >8</text>
<text x="19.80" y="303.27" font-size="6.3" fill="#6a6a6a" font-weight="normal" font-family='"Liberation Sans", "Noto Sans CJK SC", sans-serif' text-anchor="middle" textLength="4.80" lengthAdjust="spacingAndGlyphs" >10</text>
<text x="19.80" y="286.07" font-size="6.3" fill="#6a6a6a" font-weight="normal" font-family='"Liberation Sans", "Noto Sans CJK SC", sans-serif' text-anchor="middle" textLength="4.80" lengthAdjust="spacingAndGlyphs" >12</text>
<text x="19.80" y="268.87" font-size="6.3" fill="#6a6a6a" font-weight="normal" font-family='"Liberation Sans", "Noto Sans CJK SC", sans-serif' text-anchor="middle" textLength="4.80" lengthAdjust="spacingAndGlyphs" >14</text>
<text x="19.80" y="251.67" font-size="6.3" fill="#6a6a6a" font-weight="normal" font-family='"Liberation Sans", "Noto Sans CJK SC", sans-serif' text-anchor="middle" textLength="4.80" lengthAdjust="spacingAndGlyphs" >16</text>
<line x1="27.5" y1="387.0" x2="309.5" y2="387.0" stroke="#d6d6d6" stroke-width="0.8"/>
<rect x="34.7" y="329.4" width="7.3" height="57.6" fill="#fb6532"/>
<rect x="43.9" y="271.8" width="7.3" height="115.2" fill="#fec102"/>
<text x="37.90" y="324.40" font-size="5.6" fill="#5a5a5a" font-weight="normal" font-family='"Liberation Sans", "Noto Sans CJK SC", sans-serif' text-anchor="middle" textLength="5.20" lengthAdjust="spacingAndGlyphs" >6.7</text>
<text x="47.60" y="267.48" font-size="5.6" fill="#5a5a5a" font-weight="normal" font-family='"Liberation Sans", "Noto Sans CJK SC", sans-serif' text-anchor="middle" textLength="7.60" lengthAdjust="spacingAndGlyphs" >13.4</text>
<text x="43.20" y="397.36" font-size="6.0" fill="#5a5a5a" font-weight="normal" font-family='"Liberation Sans", "Noto Sans CJK SC", sans-serif' text-anchor="middle" textLength="9.80" lengthAdjust="spacingAndGlyphs" >2010</text>
<rect x="71.1" y="328.9" width="7.3" height="58.1" fill="#fb6532"/>
<rect x="80.3" y="270.9" width="7.3" height="116.1" fill="#fec102"/>
<text x="74.30" y="323.97" font-size="5.6" fill="#5a5a5a" font-weight="normal" font-family='"Liberation Sans", "Noto Sans CJK SC", sans-serif' text-anchor="middle" textLength="7.20" lengthAdjust="spacingAndGlyphs" >6.75</text>
<text x="84.00" y="266.62" font-size="5.6" fill="#5a5a5a" font-weight="normal" font-family='"Liberation Sans", "Noto Sans CJK SC", sans-serif' text-anchor="middle" textLength="7.60" lengthAdjust="spacingAndGlyphs" >13.5</text>
<text x="79.60" y="397.36" font-size="6.0" fill="#5a5a5a" font-weight="normal" font-family='"Liberation Sans", "Noto Sans CJK SC", sans-serif' text-anchor="middle" textLength="9.80" lengthAdjust="spacingAndGlyphs" >2011</text>
<rect x="107.5" y="328.8" width="7.3" height="58.2" fill="#fb6532"/>
<rect x="116.7" y="270.9" width="7.3" height="116.1" fill="#fec102"/>
<text x="110.70" y="323.79" font-size="5.6" fill="#5a5a5a" font-weight="normal" font-family='"Liberation Sans", "Noto Sans CJK SC", sans-serif' text-anchor="middle" textLength="7.20" lengthAdjust="spacingAndGlyphs" >6.77</text>
<text x="120.40" y="266.62" font-size="5.6" fill="#5a5a5a" font-weight="normal" font-family='"Liberation Sans", "Noto Sans CJK SC", sans-serif' text-anchor="middle" textLength="7.60" lengthAdjust="spacingAndGlyphs" >13.5</text>
<text x="116.00" y="397.36" font-size="6.0" fill="#5a5a5a" font-weight="normal" font-family='"Liberation Sans", "Noto Sans CJK SC", sans-serif' text-anchor="middle" textLength="9.80" lengthAdjust="spacingAndGlyphs" >2012</text>
<rect x="143.9" y="328.5" width="7.3" height="58.5" fill="#fb6532"/>
<rect x="153.1" y="270.0" width="7.3" height="117.0" fill="#fec102"/>
<text x="147.10" y="323.54" font-size="5.6" fill="#5a5a5a" font-weight="normal" font-family='"Liberation Sans", "Noto Sans CJK SC", sans-serif' text-anchor="middle" textLength="5.20" lengthAdjust="spacingAndGlyphs" >6.8</text>
<text x="156.80" y="265.76" font-size="5.6" fill="#5a5a5a" font-weight="normal" font-family='"Liberation Sans", "Noto Sans CJK SC", sans-serif' text-anchor="middle" textLength="7.60" lengthAdjust="spacingAndGlyphs" >13.6</text>
<text x="152.40" y="397.36" font-size="6.0" fill="#5a5a5a" font-weight="normal" font-family='"Liberation Sans", "Noto Sans CJK SC", sans-serif' text-anchor="middle" textLength="9.80" lengthAdjust="spacingAndGlyphs" >2013</text>
<rect x="180.3" y="328.3" width="7.3" height="58.7" fill="#fb6532"/>
<rect x="189.5" y="269.2" width="7.3" height="117.8" fill="#fec102"/>
<text x="183.50" y="323.28" font-size="5.6" fill="#5a5a5a" font-weight="normal" font-family='"Liberation Sans", "Noto Sans CJK SC", sans-serif' text-anchor="middle" textLength="7.20" lengthAdjust="spacingAndGlyphs" >6.83</text>
<text x="193.20" y="264.90" font-size="5.6" fill="#5a5a5a" font-weight="normal" font-family='"Liberation Sans", "Noto Sans CJK SC", sans-serif' text-anchor="middle" textLength="7.60" lengthAdjust="spacingAndGlyphs" >13.7</text>
<text x="188.80" y="397.36" font-size="6.0" fill="#5a5a5a" font-weight="normal" font-family='"Liberation Sans", "Noto Sans CJK SC", sans-serif' text-anchor="middle" textLength="9.80" lengthAdjust="spacingAndGlyphs" >2014</text>
<rect x="216.7" y="327.9" width="7.3" height="59.1" fill="#fb6532"/>
<rect x="225.9" y="268.3" width="7.3" height="118.7" fill="#fec102"/>
<text x="219.90" y="322.93" font-size="5.6" fill="#5a5a5a" font-weight="normal" font-family='"Liberation Sans", "Noto Sans CJK SC", sans-serif' text-anchor="middle" textLength="7.20" lengthAdjust="spacingAndGlyphs" >6.87</text>
<text x="229.60" y="264.04" font-size="5.6" fill="#5a5a5a" font-weight="normal" font-family='"Liberation Sans", "Noto Sans CJK SC", sans-serif' text-anchor="middle" textLength="7.60" lengthAdjust="spacingAndGlyphs" >13.8</text>
<text x="225.20" y="397.36" font-size="6.0" fill="#5a5a5a" font-weight="normal" font-family='"Liberation Sans", "Noto Sans CJK SC", sans-serif' text-anchor="middle" textLength="9.80" lengthAdjust="spacingAndGlyphs" >2015</text>
<rect x="253.1" y="327.7" width="7.3" height="59.3" fill="#fb6532"/>
<rect x="262.3" y="268.3" width="7.3" height="118.7" fill="#fec102"/>
<text x="256.30" y="322.68" font-size="5.6" fill="#5a5a5a" font-weight="normal" font-family='"Liberation Sans", "Noto Sans CJK SC", sans-serif' text-anchor="middle" textLength="5.20" lengthAdjust="spacingAndGlyphs" >6.9</text>
<text x="266.00" y="264.04" font-size="5.6" fill="#5a5a5a" font-weight="normal" font-family='"Liberation Sans", "Noto Sans CJK SC", sans-serif' text-anchor="middle" textLength="7.60" lengthAdjust="spacingAndGlyphs" >13.8</text>
<text x="261.60" y="397.36" font-size="6.0" fill="#5a5a5a" font-weight="normal" font-family='"Liberation Sans", "Noto Sans CJK SC", sans-serif' text-anchor="middle" textLength="9.80" lengthAdjust="spacingAndGlyphs" >2016</text>
<rect x="289.5" y="327.3" width="7.3" height="59.7" fill="#fb6532"/>
<rect x="298.7" y="267.5" width="7.3" height="119.5" fill="#fec102"/>
<text x="292.70" y="322.33" font-size="5.6" fill="#5a5a5a" font-weight="normal" font-family='"Liberation Sans", "Noto Sans CJK SC", sans-serif' text-anchor="middle" textLength="7.20" lengthAdjust="spacingAndGlyphs" >6.94</text>
<text x="302.40" y="263.18" font-size="5.6" fill="#5a5a5a" font-weight="normal" font-family='"Liberation Sans", "Noto Sans CJK SC", sans-serif' text-anchor="middle" textLength="7.60" lengthAdjust="spacingAndGlyphs" >13.9</text>
<text x="298.00" y="397.36" font-size="6.0" fill="#5a5a5a" font-weight="normal" font-family='"Liberation Sans", "Noto Sans CJK SC", sans-serif' text-anchor="middle" textLength="9.80" lengthAdjust="spacingAndGlyphs" >2017</text>
</g></g>
<g>
<rect x="317.7" y="206.6" width="234.8" height="197.4" fill="#fff" stroke="#c4161c" stroke-width="1.1"/>
<rect x="319.6" y="208.4" width="231" height="193.8" fill="none" stroke="#a9a9a9" stroke-width="0.8"/>
<g filter="url(#soft2)">
<line x1="337.7" y1="358.60" x2="525.2" y2="358.60" stroke="#8c8c8c" stroke-width="0.9"/>
<text x="333.00" y="361.37" font-size="7.7" fill="#333" font-weight="normal" font-family='"Liberation Sans", "Noto Sans CJK SC", sans-serif' text-anchor="end" textLength="3.20" lengthAdjust="spacingAndGlyphs" >0</text>
<line x1="337.7" y1="341.07" x2="525.2" y2="341.07" stroke="#b3b3b3" stroke-width="0.8"/>
<text x="333.00" y="343.84" font-size="7.7" fill="#333" font-weight="normal" font-family='"Liberation Sans", "Noto Sans CJK SC", sans-serif' text-anchor="end" textLength="6.40" lengthAdjust="spacingAndGlyphs" >50</text>
<line x1="337.7" y1="323.54" x2="525.2" y2="323.54" stroke="#b3b3b3" stroke-width="0.8"/>
<text x="333.00" y="326.31" font-size="7.7" fill="#333" font-weight="normal" font-family='"Liberation Sans", "Noto Sans CJK SC", sans-serif' text-anchor="end" textLength="9.60" lengthAdjust="spacingAndGlyphs" >100</text>
<line x1="337.7" y1="306.01" x2="525.2" y2="306.01" stroke="#b3b3b3" stroke-width="0.8"/>
<text x="333.00" y="308.78" font-size="7.7" fill="#333" font-weight="normal" font-family='"Liberation Sans", "Noto Sans CJK SC", sans-serif' text-anchor="end" textLength="9.60" lengthAdjust="spacingAndGlyphs" >150</text>
<line x1="337.7" y1="288.48" x2="525.2" y2="288.48" stroke="#b3b3b3" stroke-width="0.8"/>
<text x="333.00" y="291.25" font-size="7.7" fill="#333" font-weight="normal" font-family='"Liberation Sans", "Noto Sans CJK SC", sans-serif' text-anchor="end" textLength="9.60" lengthAdjust="spacingAndGlyphs" >200</text>
<line x1="337.7" y1="270.95" x2="525.2" y2="270.95" stroke="#b3b3b3" stroke-width="0.8"/>
<text x="333.00" y="273.72" font-size="7.7" fill="#333" font-weight="normal" font-family='"Liberation Sans", "Noto Sans CJK SC", sans-serif' text-anchor="end" textLength="9.60" lengthAdjust="spacingAndGlyphs" >250</text>
<line x1="337.7" y1="253.42" x2="525.2" y2="253.42" stroke="#b3b3b3" stroke-width="0.8"/>
<text x="333.00" y="256.19" font-size="7.7" fill="#333" font-weight="normal" font-family='"Liberation Sans", "Noto Sans CJK SC", sans-serif' text-anchor="end" textLength="9.60" lengthAdjust="spacingAndGlyphs" >300</text>
<line x1="337.7" y1="235.89" x2="525.2" y2="235.89" stroke="#b3b3b3" stroke-width="0.8"/>
<text x="333.00" y="238.66" font-size="7.7" fill="#333" font-weight="normal" font-family='"Liberation Sans", "Noto Sans CJK SC", sans-serif' text-anchor="end" textLength="9.60" lengthAdjust="spacingAndGlyphs" >350</text>
<line x1="337.7" y1="218.36" x2="525.2" y2="218.36" stroke="#b3b3b3" stroke-width="0.8"/>
<text x="333.00" y="221.13" font-size="7.7" fill="#333" font-weight="normal" font-family='"Liberation Sans", "Noto Sans CJK SC", sans-serif' text-anchor="end" textLength="9.60" lengthAdjust="spacingAndGlyphs" >400</text>
<text x="529.60" y="361.37" font-size="7.7" fill="#333" font-weight="normal" font-family='"Liberation Sans", "Noto Sans CJK SC", sans-serif' text-anchor="start" textLength="16.20" lengthAdjust="spacingAndGlyphs" >0.00%</text>
<text x="529.60" y="345.79" font-size="7.7" fill="#333" font-weight="normal" font-family='"Liberation Sans", "Noto Sans CJK SC", sans-serif' text-anchor="start" textLength="16.20" lengthAdjust="spacingAndGlyphs" >0.50%</text>
<text x="529.60" y="330.21" font-size="7.7" fill="#333" font-weight="normal" font-family='"Liberation Sans", "Noto Sans CJK SC", sans-serif' text-anchor="start" textLength="16.20" lengthAdjust="spacingAndGlyphs" >1.00%</text>
<text x="529.60" y="314.63" font-size="7.7" fill="#333" font-weight="normal" font-family='"Liberation Sans", "Noto Sans CJK SC", sans-serif' text-anchor="start" textLength="16.20" lengthAdjust="spacingAndGlyphs" >1.50%</text>
<text x="529.60" y="299.04" font-size="7.7" fill="#333" font-weight="normal" font-family='"Liberation Sans", "Noto Sans CJK SC", sans-serif' text-anchor="start" textLength="16.20" lengthAdjust="spacingAndGlyphs" >2.00%</text>
<text x="529.60" y="283.46" font-size="7.7" fill="#333" font-weight="normal" font-family='"Liberation Sans", "Noto Sans CJK SC", sans-serif' text-anchor="start" textLength="16.20" lengthAdjust="spacingAndGlyphs" >2.50%</text>
<text x="529.60" y="267.88" font-size="7.7" fill="#333" font-weight="normal" font-family='"Liberation Sans", "Noto Sans CJK SC", sans-serif' text-anchor="start" textLength="16.20" lengthAdjust="spacingAndGlyphs" >3.00%</text>
<text x="529.60" y="252.30" font-size="7.7" fill="#333" font-weight="normal" font-family='"Liberation Sans", "Noto Sans CJK SC", sans-serif' text-anchor="start" textLength="16.20" lengthAdjust="spacingAndGlyphs" >3.50%</text>
<text x="529.60" y="236.71" font-size="7.7" fill="#333" font-weight="normal" font-family='"Liberation Sans", "Noto Sans CJK SC", sans-serif' text-anchor="start" textLength="16.20" lengthAdjust="spacingAndGlyphs" >4.00%</text>
<text x="529.60" y="221.13" font-size="7.7" fill="#333" font-weight="normal" font-family='"Liberation Sans", "Noto Sans CJK SC", sans-serif' text-anchor="start" textLength="16.20" lengthAdjust="spacingAndGlyphs" >4.50%</text>
<rect x="361.7" y="239.1" width="46.4" height="119.5" fill="#5c8fa8"/>
<rect x="455" y="355.7" width="46.5" height="2.9" fill="#5c8fa8"/>
<text x="384.60" y="233.26" font-size="7.4" fill="#222" font-weight="normal" font-family='"Liberation Sans", "Noto Sans CJK SC", sans-serif' text-anchor="middle" textLength="10.50" lengthAdjust="spacingAndGlyphs" >341</text>
<text x="478.20" y="350.06" font-size="7.4" fill="#333" font-weight="normal" font-family='"Liberation Sans", "Noto Sans CJK SC", sans-serif' text-anchor="middle" textLength="3.40" lengthAdjust="spacingAndGlyphs" >9</text>
<line x1="384.8" y1="233.6" x2="478" y2="258.6" stroke="#1d5e7a" stroke-width="1.7"/>
<polygon points="381.8,233.6 384.8,230.1 387.8,233.6 384.8,237.1" fill="#fff" stroke="#1d5e7a" stroke-width="0.8"/>
<polygon points="475.0,258.6 478,255.10000000000002 481.0,258.6 478,262.1" fill="#fff" stroke="#1d5e7a" stroke-width="0.8"/>
<text x="391.80" y="236.26" font-size="7.4" fill="#333" font-weight="normal" font-family='"Liberation Sans", "Noto Sans CJK SC", sans-serif' text-anchor="start" textLength="16.00" lengthAdjust="spacingAndGlyphs" >4.01%</text>
<text x="485.30" y="261.36" font-size="7.4" fill="#333" font-weight="normal" font-family='"Liberation Sans", "Noto Sans CJK SC", sans-serif' text-anchor="start" textLength="16.00" lengthAdjust="spacingAndGlyphs" >3.21%</text>
<text x="384.70" y="372.03" font-size="6.2" fill="#222" font-weight="normal" font-family='"Liberation Sans", "Noto Sans CJK SC", sans-serif' text-anchor="middle" textLength="11.00" lengthAdjust="spacingAndGlyphs" >美国</text>
<text x="478.30" y="372.03" font-size="6.2" fill="#222" font-weight="normal" font-family='"Liberation Sans", "Noto Sans CJK SC", sans-serif' text-anchor="middle" textLength="11.00" lengthAdjust="spacingAndGlyphs" >中国</text>
<rect x="366.4" y="385.1" width="10.8" height="6.2" fill="#5c8fa8"/>
<text x="379.00" y="390.94" font-size="7.6" fill="#222" font-weight="normal" font-family='"Liberation Sans", "Noto Sans CJK SC", sans-serif' text-anchor="start" textLength="38.50" lengthAdjust="spacingAndGlyphs" >人均医疗支出</text>
<line x1="428" y1="388.3" x2="440.6" y2="388.3" stroke="#1d5e7a" stroke-width="1.7"/>
<polygon points="431.9,388.3 434.3,385.6 436.7,388.3 434.3,391" fill="#fff" stroke="#1d5e7a" stroke-width="0.7"/>
<text x="442.10" y="390.94" font-size="7.6" fill="#222" font-weight="normal" font-family='"Liberation Sans", "Noto Sans CJK SC", sans-serif' text-anchor="start" textLength="64.20" lengthAdjust="spacingAndGlyphs" >人均口腔医疗支出占比</text>
</g></g>
<g>
<rect x="557.2" y="206.7" width="226.3" height="197.2" fill="#fff" stroke="#c4161c" stroke-width="1.1"/>
<g filter="url(#soft)">
<g clip-path="url(#c3)">
<g transform="translate(592,256) rotate(-44)" opacity="0.55"><path d="M-12,-6 C-9,-10 -3,-10 -1,-6 L-4,-6 L-6,4 L-10,4 Z" fill="#d9dce1"/><text x="0" y="0" font-size="9" fill="#d9dce0" font-weight="bold" font-style="italic" font-family='"Liberation Sans", "Noto Sans CJK SC", sans-serif'>前瞻产业研究院</text></g>
<g transform="translate(735,224) rotate(-44)" opacity="0.55"><path d="M-12,-6 C-9,-10 -3,-10 -1,-6 L-4,-6 L-6,4 L-10,4 Z" fill="#d9dce1"/><text x="0" y="0" font-size="9" fill="#d9dce0" font-weight="bold" font-style="italic" font-family='"Liberation Sans", "Noto Sans CJK SC", sans-serif'>前瞻产业研究院</text></g>
<g transform="translate(655,304) rotate(-44)" opacity="0.55"><path d="M-12,-6 C-9,-10 -3,-10 -1,-6 L-4,-6 L-6,4 L-10,4 Z" fill="#d9dce1"/><text x="0" y="0" font-size="9" fill="#d9dce0" font-weight="bold" font-style="italic" font-family='"Liberation Sans", "Noto Sans CJK SC", sans-serif'>前瞻产业研究院</text></g>
<g transform="translate(568,384) rotate(-44)" opacity="0.55"><path d="M-12,-6 C-9,-10 -3,-10 -1,-6 L-4,-6 L-6,4 L-10,4 Z" fill="#d9dce1"/><text x="0" y="0" font-size="9" fill="#d9dce0" font-weight="bold" font-style="italic" font-family='"Liberation Sans", "Noto Sans CJK SC", sans-serif'>前瞻产业研究院</text></g>
<g transform="translate(718,356) rotate(-44)" opacity="0.55"><path d="M-12,-6 C-9,-10 -3,-10 -1,-6 L-4,-6 L-6,4 L-10,4 Z" fill="#d9dce1"/><text x="0" y="0" font-size="9" fill="#d9dce0" font-weight="bold" font-style="italic" font-family='"Liberation Sans", "Noto Sans CJK SC", sans-serif'>前瞻产业研究院</text></g>
<g transform="translate(783,320) rotate(-44)" opacity="0.55"><path d="M-12,-6 C-9,-10 -3,-10 -1,-6 L-4,-6 L-6,4 L-10,4 Z" fill="#d9dce1"/><text x="0" y="0" font-size="9" fill="#d9dce0" font-weight="bold" font-style="italic" font-family='"Liberation Sans", "Noto Sans CJK SC", sans-serif'>前瞻产业研究院</text></g>
</g>
<text x="561.20" y="355.55" font-size="5.7" fill="#2a2a2a" font-weight="bold" font-family='"Liberation Sans", "Noto Sans CJK SC", sans-serif' text-anchor="start" textLength="12.60" lengthAdjust="spacingAndGlyphs" >62000</text>
<line x1="575.8" y1="353.50" x2="577.6" y2="353.50" stroke="#8a8a8a" stroke-width="0.6"/>
<text x="561.20" y="337.95" font-size="5.7" fill="#2a2a2a" font-weight="bold" font-family='"Liberation Sans", "Noto Sans CJK SC", sans-serif' text-anchor="start" textLength="12.60" lengthAdjust="spacingAndGlyphs" >63000</text>
<line x1="575.8" y1="335.90" x2="577.6" y2="335.90" stroke="#8a8a8a" stroke-width="0.6"/>
<text x="561.20" y="320.35" font-size="5.7" fill="#2a2a2a" font-weight="bold" font-family='"Liberation Sans", "Noto Sans CJK SC", sans-serif' text-anchor="start" textLength="12.60" lengthAdjust="spacingAndGlyphs" >64000</text>
<line x1="575.8" y1="318.30" x2="577.6" y2="318.30" stroke="#8a8a8a" stroke-width="0.6"/>
<text x="561.20" y="302.75" font-size="5.7" fill="#2a2a2a" font-weight="bold" font-family='"Liberation Sans", "Noto Sans CJK SC", sans-serif' text-anchor="start" textLength="12.60" lengthAdjust="spacingAndGlyphs" >65000</text>
<line x1="575.8" y1="300.70" x2="577.6" y2="300.70" stroke="#8a8a8a" stroke-width="0.6"/>
<text x="561.20" y="285.15" font-size="5.7" fill="#2a2a2a" font-weight="bold" font-family='"Liberation Sans", "Noto Sans CJK SC", sans-serif' text-anchor="start" textLength="12.60" lengthAdjust="spacingAndGlyphs" >66000</text>
<line x1="575.8" y1="283.10" x2="577.6" y2="283.10" stroke="#8a8a8a" stroke-width="0.6"/>
<text x="561.20" y="267.55" font-size="5.7" fill="#2a2a2a" font-weight="bold" font-family='"Liberation Sans", "Noto Sans CJK SC", sans-serif' text-anchor="start" textLength="12.60" lengthAdjust="spacingAndGlyphs" >67000</text>
<line x1="575.8" y1="265.50" x2="577.6" y2="265.50" stroke="#8a8a8a" stroke-width="0.6"/>
<text x="561.20" y="249.95" font-size="5.7" fill="#2a2a2a" font-weight="bold" font-family='"Liberation Sans", "Noto Sans CJK SC", sans-serif' text-anchor="start" textLength="12.60" lengthAdjust="spacingAndGlyphs" >68000</text>
<line x1="575.8" y1="247.90" x2="577.6" y2="247.90" stroke="#8a8a8a" stroke-width="0.6"/>
<text x="561.20" y="232.35" font-size="5.7" fill="#2a2a2a" font-weight="bold" font-family='"Liberation Sans", "Noto Sans CJK SC", sans-serif' text-anchor="start" textLength="12.60" lengthAdjust="spacingAndGlyphs" >69000</text>
<line x1="575.8" y1="230.30" x2="577.6" y2="230.30" stroke="#8a8a8a" stroke-width="0.6"/>
<text x="561.20" y="214.75" font-size="5.7" fill="#2a2a2a" font-weight="bold" font-family='"Liberation Sans", "Noto Sans CJK SC", sans-serif' text-anchor="start" textLength="12.60" lengthAdjust="spacingAndGlyphs" >70000</text>
<line x1="575.8" y1="212.70" x2="577.6" y2="212.70" stroke="#8a8a8a" stroke-width="0.6"/>
<line x1="577.6" y1="212.5" x2="577.6" y2="353.5" stroke="#8a8a8a" stroke-width="0.7"/>
<line x1="577.6" y1="353.5" x2="764" y2="353.5" stroke="#8a8a8a" stroke-width="0.7"/>
<line x1="764" y1="213" x2="764" y2="353.5" stroke="#8a8a8a" stroke-width="0.7"/>
<text x="768.20" y="355.55" font-size="5.7" fill="#2a2a2a" font-weight="bold" font-family='"Liberation Sans", "Noto Sans CJK SC", sans-serif' text-anchor="start" textLength="2.25" lengthAdjust="spacingAndGlyphs" >0</text>
<line x1="764" y1="353.50" x2="765.8" y2="353.50" stroke="#8a8a8a" stroke-width="0.6"/>
<text x="768.20" y="339.96" font-size="5.7" fill="#2a2a2a" font-weight="bold" font-family='"Liberation Sans", "Noto Sans CJK SC", sans-serif' text-anchor="start" textLength="11.25" lengthAdjust="spacingAndGlyphs" >0.005</text>
<line x1="764" y1="337.91" x2="765.8" y2="337.91" stroke="#8a8a8a" stroke-width="0.6"/>
<text x="768.20" y="324.37" font-size="5.7" fill="#2a2a2a" font-weight="bold" font-family='"Liberation Sans", "Noto Sans CJK SC", sans-serif' text-anchor="start" textLength="9.00" lengthAdjust="spacingAndGlyphs" >0.01</text>
<line x1="764" y1="322.32" x2="765.8" y2="322.32" stroke="#8a8a8a" stroke-width="0.6"/>
<text x="768.20" y="308.79" font-size="5.7" fill="#2a2a2a" font-weight="bold" font-family='"Liberation Sans", "Noto Sans CJK SC", sans-serif' text-anchor="start" textLength="11.25" lengthAdjust="spacingAndGlyphs" >0.015</text>
<line x1="764" y1="306.73" x2="765.8" y2="306.73" stroke="#8a8a8a" stroke-width="0.6"/>
<text x="768.20" y="293.20" font-size="5.7" fill="#2a2a2a" font-weight="bold" font-family='"Liberation Sans", "Noto Sans CJK SC", sans-serif' text-anchor="start" textLength="9.00" lengthAdjust="spacingAndGlyphs" >0.02</text>
<line x1="764" y1="291.14" x2="765.8" y2="291.14" stroke="#8a8a8a" stroke-width="0.6"/>
<text x="768.20" y="277.61" font-size="5.7" fill="#2a2a2a" font-weight="bold" font-family='"Liberation Sans", "Noto Sans CJK SC", sans-serif' text-anchor="start" textLength="11.25" lengthAdjust="spacingAndGlyphs" >0.025</text>
<line x1="764" y1="275.56" x2="765.8" y2="275.56" stroke="#8a8a8a" stroke-width="0.6"/>
<text x="768.20" y="262.02" font-size="5.7" fill="#2a2a2a" font-weight="bold" font-family='"Liberation Sans", "Noto Sans CJK SC", sans-serif' text-anchor="start" textLength="9.00" lengthAdjust="spacingAndGlyphs" >0.03</text>
<line x1="764" y1="259.97" x2="765.8" y2="259.97" stroke="#8a8a8a" stroke-width="0.6"/>
<text x="768.20" y="246.43" font-size="5.7" fill="#2a2a2a" font-weight="bold" font-family='"Liberation Sans", "Noto Sans CJK SC", sans-serif' text-anchor="start" textLength="11.25" lengthAdjust="spacingAndGlyphs" >0.035</text>
<line x1="764" y1="244.38" x2="765.8" y2="244.38" stroke="#8a8a8a" stroke-width="0.6"/>
<text x="768.20" y="230.84" font-size="5.7" fill="#2a2a2a" font-weight="bold" font-family='"Liberation Sans", "Noto Sans CJK SC", sans-serif' text-anchor="start" textLength="9.00" lengthAdjust="spacingAndGlyphs" >0.04</text>
<line x1="764" y1="228.79" x2="765.8" y2="228.79" stroke="#8a8a8a" stroke-width="0.6"/>
<text x="768.20" y="215.25" font-size="5.7" fill="#2a2a2a" font-weight="bold" font-family='"Liberation Sans", "Noto Sans CJK SC", sans-serif' text-anchor="start" textLength="11.25" lengthAdjust="spacingAndGlyphs" >0.045</text>
<line x1="764" y1="213.20" x2="765.8" y2="213.20" stroke="#8a8a8a" stroke-width="0.6"/>
<rect x="583.30" y="307.49" width="5.7" height="46.01" fill="#4a7ebb"/>
<line x1="579.02" y1="353.5" x2="579.02" y2="355.3" stroke="#8a8a8a" stroke-width="0.6"/>
<rect x="597.56" y="300.81" width="5.7" height="52.69" fill="#4a7ebb"/>
<line x1="593.28" y1="353.5" x2="593.28" y2="355.3" stroke="#8a8a8a" stroke-width="0.6"/>
<rect x="611.83" y="294.05" width="5.7" height="59.45" fill="#4a7ebb"/>
<line x1="607.55" y1="353.5" x2="607.55" y2="355.3" stroke="#8a8a8a" stroke-width="0.6"/>
<rect x="626.09" y="287.96" width="5.7" height="65.54" fill="#4a7ebb"/>
<line x1="621.81" y1="353.5" x2="621.81" y2="355.3" stroke="#8a8a8a" stroke-width="0.6"/>
<rect x="640.36" y="281.96" width="5.7" height="71.54" fill="#4a7ebb"/>
<line x1="636.08" y1="353.5" x2="636.08" y2="355.3" stroke="#8a8a8a" stroke-width="0.6"/>
<rect x="654.62" y="276.04" width="5.7" height="77.46" fill="#4a7ebb"/>
<line x1="650.35" y1="353.5" x2="650.35" y2="355.3" stroke="#8a8a8a" stroke-width="0.6"/>
<rect x="668.89" y="270.34" width="5.7" height="83.16" fill="#4a7ebb"/>
<line x1="664.61" y1="353.5" x2="664.61" y2="355.3" stroke="#8a8a8a" stroke-width="0.6"/>
<rect x="683.15" y="264.69" width="5.7" height="88.81" fill="#4a7ebb"/>
<line x1="678.88" y1="353.5" x2="678.88" y2="355.3" stroke="#8a8a8a" stroke-width="0.6"/>
<rect x="697.42" y="259.02" width="5.7" height="94.48" fill="#4a7ebb"/>
<line x1="693.14" y1="353.5" x2="693.14" y2="355.3" stroke="#8a8a8a" stroke-width="0.6"/>
<rect x="711.68" y="253.14" width="5.7" height="100.36" fill="#4a7ebb"/>
<line x1="707.40" y1="353.5" x2="707.40" y2="355.3" stroke="#8a8a8a" stroke-width="0.6"/>
<rect x="725.95" y="247.46" width="5.7" height="106.04" fill="#4a7ebb"/>
<line x1="721.67" y1="353.5" x2="721.67" y2="355.3" stroke="#8a8a8a" stroke-width="0.6"/>
<rect x="740.21" y="241.02" width="5.7" height="112.48" fill="#4a7ebb"/>
<line x1="735.93" y1="353.5" x2="735.93" y2="355.3" stroke="#8a8a8a" stroke-width="0.6"/>
<rect x="754.48" y="234.98" width="5.7" height="118.52" fill="#4a7ebb"/>
<line x1="750.20" y1="353.5" x2="750.20" y2="355.3" stroke="#8a8a8a" stroke-width="0.6"/>
<text x="586.45" y="302.65" font-size="5.7" fill="#2a2a2a" font-weight="bold" font-family='"Liberation Sans", "Noto Sans CJK SC", sans-serif' text-anchor="middle" textLength="12.20" lengthAdjust="spacingAndGlyphs" >64614</text>
<text x="600.71" y="296.06" font-size="5.7" fill="#2a2a2a" font-weight="bold" font-family='"Liberation Sans", "Noto Sans CJK SC", sans-serif' text-anchor="middle" textLength="12.20" lengthAdjust="spacingAndGlyphs" >64994</text>
<text x="614.98" y="289.30" font-size="5.7" fill="#2a2a2a" font-weight="bold" font-family='"Liberation Sans", "Noto Sans CJK SC", sans-serif' text-anchor="middle" textLength="12.20" lengthAdjust="spacingAndGlyphs" >65378</text>
<text x="629.24" y="283.21" font-size="5.7" fill="#2a2a2a" font-weight="bold" font-family='"Liberation Sans", "Noto Sans CJK SC", sans-serif' text-anchor="middle" textLength="12.20" lengthAdjust="spacingAndGlyphs" >65724</text>
<text x="643.51" y="277.21" font-size="5.7" fill="#2a2a2a" font-weight="bold" font-family='"Liberation Sans", "Noto Sans CJK SC", sans-serif' text-anchor="middle" textLength="12.20" lengthAdjust="spacingAndGlyphs" >66065</text>
<text x="657.77" y="271.29" font-size="5.7" fill="#2a2a2a" font-weight="bold" font-family='"Liberation Sans", "Noto Sans CJK SC", sans-serif' text-anchor="middle" textLength="12.20" lengthAdjust="spacingAndGlyphs" >66401</text>
<text x="672.04" y="265.59" font-size="5.7" fill="#2a2a2a" font-weight="bold" font-family='"Liberation Sans", "Noto Sans CJK SC", sans-serif' text-anchor="middle" textLength="12.20" lengthAdjust="spacingAndGlyphs" >66725</text>
<text x="686.30" y="259.94" font-size="5.7" fill="#2a2a2a" font-weight="bold" font-family='"Liberation Sans", "Noto Sans CJK SC", sans-serif' text-anchor="middle" textLength="12.20" lengthAdjust="spacingAndGlyphs" >67046</text>
<text x="700.57" y="254.28" font-size="5.7" fill="#2a2a2a" font-weight="bold" font-family='"Liberation Sans", "Noto Sans CJK SC", sans-serif' text-anchor="middle" textLength="12.20" lengthAdjust="spacingAndGlyphs" >67368</text>
<text x="714.83" y="248.40" font-size="5.7" fill="#2a2a2a" font-weight="bold" font-family='"Liberation Sans", "Noto Sans CJK SC", sans-serif' text-anchor="middle" textLength="12.20" lengthAdjust="spacingAndGlyphs" >67702</text>
<text x="729.10" y="242.71" font-size="5.7" fill="#2a2a2a" font-weight="bold" font-family='"Liberation Sans", "Noto Sans CJK SC", sans-serif' text-anchor="middle" textLength="12.20" lengthAdjust="spacingAndGlyphs" >68025</text>
<text x="743.36" y="236.27" font-size="5.7" fill="#2a2a2a" font-weight="bold" font-family='"Liberation Sans", "Noto Sans CJK SC", sans-serif' text-anchor="middle" textLength="12.20" lengthAdjust="spacingAndGlyphs" >68391</text>
<text x="757.63" y="230.23" font-size="5.7" fill="#2a2a2a" font-weight="bold" font-family='"Liberation Sans", "Noto Sans CJK SC", sans-serif' text-anchor="middle" textLength="12.20" lengthAdjust="spacingAndGlyphs" >68734</text>
<polyline points="586.2,300.7 600.5,297.6 614.7,293.4 628.7,289.3 642.8,284.6 657.0,279.3 671.5,273.6 685.8,267.8 699.8,260.5 714.0,252.0 728.1,242.2 742.4,230.9 756.4,221.0" fill="none" stroke="#be4b48" stroke-width="1.4" stroke-linejoin="round"/>
<rect x="584.0" y="298.5" width="4.4" height="4.4" fill="#be4b48"/>
<rect x="598.3" y="295.40000000000003" width="4.4" height="4.4" fill="#be4b48"/>
<rect x="612.5" y="291.2" width="4.4" height="4.4" fill="#be4b48"/>
<rect x="626.5" y="287.1" width="4.4" height="4.4" fill="#be4b48"/>
<rect x="640.5999999999999" y="282.40000000000003" width="4.4" height="4.4" fill="#be4b48"/>
<rect x="654.8" y="277.1" width="4.4" height="4.4" fill="#be4b48"/>
<rect x="669.3" y="271.40000000000003" width="4.4" height="4.4" fill="#be4b48"/>
<rect x="683.5999999999999" y="265.6" width="4.4" height="4.4" fill="#be4b48"/>
<rect x="697.5999999999999" y="258.3" width="4.4" height="4.4" fill="#be4b48"/>
<rect x="711.8" y="249.8" width="4.4" height="4.4" fill="#be4b48"/>
<rect x="725.9" y="240.0" width="4.4" height="4.4" fill="#be4b48"/>
<rect x="740.1999999999999" y="228.70000000000002" width="4.4" height="4.4" fill="#be4b48"/>
<rect x="754.1999999999999" y="218.8" width="4.4" height="4.4" fill="#be4b48"/>
<text transform="translate(584.15,363.80) rotate(-57)" x="0" y="3.6" text-anchor="end" font-size="5.8" fill="#2a2a2a" font-weight="bold" font-style="italic" font-family='"Liberation Sans", "Noto Sans CJK SC", sans-serif' textLength="17.5" lengthAdjust="spacingAndGlyphs">2003年</text>
<text transform="translate(598.41,363.80) rotate(-57)" x="0" y="3.6" text-anchor="end" font-size="5.8" fill="#2a2a2a" font-weight="bold" font-style="italic" font-family='"Liberation Sans", "Noto Sans CJK SC", sans-serif' textLength="17.5" lengthAdjust="spacingAndGlyphs">2004年</text>
<text transform="translate(612.68,363.80) rotate(-57)" x="0" y="3.6" text-anchor="end" font-size="5.8" fill="#2a2a2a" font-weight="bold" font-style="italic" font-family='"Liberation Sans", "Noto Sans CJK SC", sans-serif' textLength="17.5" lengthAdjust="spacingAndGlyphs">2005年</text>
<text transform="translate(626.94,363.80) rotate(-57)" x="0" y="3.6" text-anchor="end" font-size="5.8" fill="#2a2a2a" font-weight="bold" font-style="italic" font-family='"Liberation Sans", "Noto Sans CJK SC", sans-serif' textLength="17.5" lengthAdjust="spacingAndGlyphs">2006年</text>
<text transform="translate(641.21,363.80) rotate(-57)" x="0" y="3.6" text-anchor="end" font-size="5.8" fill="#2a2a2a" font-weight="bold" font-style="italic" font-family='"Liberation Sans", "Noto Sans CJK SC", sans-serif' textLength="17.5" lengthAdjust="spacingAndGlyphs">2007年</text>
<text transform="translate(655.48,363.80) rotate(-57)" x="0" y="3.6" text-anchor="end" font-size="5.8" fill="#2a2a2a" font-weight="bold" font-style="italic" font-family='"Liberation Sans", "Noto Sans CJK SC", sans-serif' textLength="17.5" lengthAdjust="spacingAndGlyphs">2008年</text>
<text transform="translate(669.74,363.80) rotate(-57)" x="0" y="3.6" text-anchor="end" font-size="5.8" fill="#2a2a2a" font-weight="bold" font-style="italic" font-family='"Liberation Sans", "Noto Sans CJK SC", sans-serif' textLength="17.5" lengthAdjust="spacingAndGlyphs">2009年</text>
<text transform="translate(684.00,363.80) rotate(-57)" x="0" y="3.6" text-anchor="end" font-size="5.8" fill="#2a2a2a" font-weight="bold" font-style="italic" font-family='"Liberation Sans", "Noto Sans CJK SC", sans-serif' textLength="17.5" lengthAdjust="spacingAndGlyphs">2010年</text>
<text transform="translate(698.27,363.80) rotate(-57)" x="0" y="3.6" text-anchor="end" font-size="5.8" fill="#2a2a2a" font-weight="bold" font-style="italic" font-family='"Liberation Sans", "Noto Sans CJK SC", sans-serif' textLength="17.5" lengthAdjust="spacingAndGlyphs">2011年</text>
<text transform="translate(712.53,363.80) rotate(-57)" x="0" y="3.6" text-anchor="end" font-size="5.8" fill="#2a2a2a" font-weight="bold" font-style="italic" font-family='"Liberation Sans", "Noto Sans CJK SC", sans-serif' textLength="17.5" lengthAdjust="spacingAndGlyphs">2012年</text>
<text transform="translate(726.80,363.80) rotate(-57)" x="0" y="3.6" text-anchor="end" font-size="5.8" fill="#2a2a2a" font-weight="bold" font-style="italic" font-family='"Liberation Sans", "Noto Sans CJK SC", sans-serif' textLength="17.5" lengthAdjust="spacingAndGlyphs">2013年</text>
<text transform="translate(741.06,363.80) rotate(-57)" x="0" y="3.6" text-anchor="end" font-size="5.8" fill="#2a2a2a" font-weight="bold" font-style="italic" font-family='"Liberation Sans", "Noto Sans CJK SC", sans-serif' textLength="17.5" lengthAdjust="spacingAndGlyphs">2014年</text>
<text transform="translate(755.33,363.80) rotate(-57)" x="0" y="3.6" text-anchor="end" font-size="5.8" fill="#2a2a2a" font-weight="bold" font-style="italic" font-family='"Liberation Sans", "Noto Sans CJK SC", sans-serif' textLength="17.5" lengthAdjust="spacingAndGlyphs">2015年</text>
<rect x="626" y="396.1" width="9.7" height="4.2" fill="#4a7ebb"/>
<text x="636.70" y="400.32" font-size="5.6" fill="#222" font-weight="bold" font-family='"Liberation Sans", "Noto Sans CJK SC", sans-serif' text-anchor="start" textLength="18.60" lengthAdjust="spacingAndGlyphs" >口腔患者</text>
<line x1="664" y1="398.3" x2="674" y2="398.3" stroke="#be4b48" stroke-width="1.3"/>
<rect x="667" y="396.3" width="4" height="4" fill="#be4b48"/>
<text x="674.60" y="400.32" font-size="5.6" fill="#222" font-weight="bold" font-family='"Liberation Sans", "Noto Sans CJK SC", sans-serif' text-anchor="start" textLength="41.00" lengthAdjust="spacingAndGlyphs" >治疗人次/口腔患者</text>
</g></g>
<text font-family='"Liberation Sans", "Noto Sans CJK SC", sans-serif' ><tspan x="55.58" y="426.82" font-size="10.05" fill="#fff" font-weight="500" textLength="22.36" lengthAdjust="spacingAndGlyphs">有约</tspan><tspan stroke="#fbbc16" stroke-width="0.5" x="79.18" y="427.59" font-size="16.42" fill="#fbbc16" font-weight="bold" textLength="15.44" lengthAdjust="spacingAndGlyphs">90</tspan><tspan stroke="#fbbc16" stroke-width="0.6" x="101.09" y="427.59" font-size="16.71" fill="#fbbc16" font-weight="bold" textLength="7.64" lengthAdjust="spacingAndGlyphs">%</tspan><tspan x="114.41" y="426.88" font-size="13.16" fill="#fbbc16" font-weight="bold" textLength="31.48" lengthAdjust="spacingAndGlyphs">左右</tspan><tspan x="145.63" y="426.51" font-size="9.54" fill="#fff" font-weight="500" textLength="161.94" lengthAdjust="spacingAndGlyphs">的中国居民患有各类口腔疾病，</tspan></text>
<text font-family='"Liberation Sans", "Noto Sans CJK SC", sans-serif' ><tspan x="55.28" y="450.22" font-size="9.79" fill="#fff" font-weight="500" textLength="115.42" lengthAdjust="spacingAndGlyphs">需求长期保持在高位。</tspan></text>
<text font-family='"Liberation Sans", "Noto Sans CJK SC", sans-serif' ><tspan x="348.19" y="426.83" font-size="9.68" fill="#fff" font-weight="500" textLength="173.49" lengthAdjust="spacingAndGlyphs">中国和美国人均口腔医疗支出对比</tspan></text>
<text font-family='"Liberation Sans", "Noto Sans CJK SC", sans-serif' ><tspan x="389.47" y="447.44" font-size="9.58" fill="#fff" font-weight="500" textLength="90.57" lengthAdjust="spacingAndGlyphs">（单位：美元）</tspan></text>
<text font-family='"Liberation Sans", "Noto Sans CJK SC", sans-serif' ><tspan x="594.39" y="427.44" font-size="9.58" fill="#fff" font-weight="500" textLength="162.10" lengthAdjust="spacingAndGlyphs">中国口腔患者人数及治疗率情况</tspan></text>
<text font-family='"Liberation Sans", "Noto Sans CJK SC", sans-serif' ><tspan x="619.92" y="447.83" font-size="9.33" fill="#fff" font-weight="500" textLength="84.80" lengthAdjust="spacingAndGlyphs">（单位：万人，</tspan><tspan x="706.87" y="448.40" font-size="11.14" fill="#fff" font-weight="500" textLength="7.88" lengthAdjust="spacingAndGlyphs">%</tspan><tspan x="720.45" y="448.04" font-size="9.58" fill="#fff" font-weight="500" textLength="10.91" lengthAdjust="spacingAndGlyphs">）</tspan></text>
<clipPath id="wmc"><rect x="660" y="462.6" width="131.2" height="40.2"/></clipPath>
<g clip-path="url(#wmc)" opacity="0.42">
<text font-family='"Liberation Serif", "Noto Serif CJK SC", serif' ><tspan x="673.13" y="472.83" font-size="13.67" fill="#8793b0" font-weight="normal" textLength="66.19" lengthAdjust="spacingAndGlyphs">CHIMA2021</tspan><tspan x="739.92" y="472.21" font-size="12.48" fill="#8793b0" font-weight="normal" textLength="51.00" lengthAdjust="spacingAndGlyphs">会议资料</tspan></text>
<text font-family='"Liberation Serif", "Noto Serif CJK SC", serif' ><tspan x="673.98" y="486.10" font-size="12.54" fill="#8793b0" font-weight="normal" textLength="111.34" lengthAdjust="spacingAndGlyphs">未经授权请勿转载</tspan></text>
<text font-family='"Liberation Serif", "Noto Serif CJK SC", serif' ><tspan x="674.20" y="500.36" font-size="13.37" fill="#8793b0" font-weight="normal" textLength="109.84" lengthAdjust="spacingAndGlyphs">www.chima.org.cn</tspan></text>
</g>
</svg></body></html>
